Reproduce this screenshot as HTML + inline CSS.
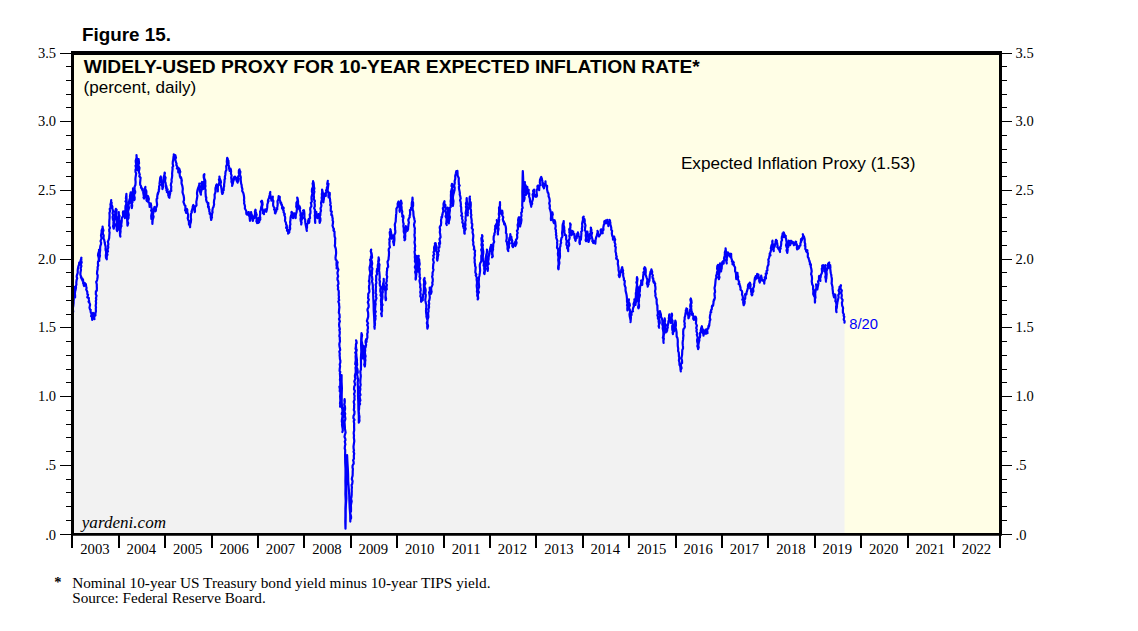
<!DOCTYPE html>
<html><head><meta charset="utf-8"><title>Figure 15</title>
<style>html,body{margin:0;padding:0;background:#fff;}body{width:1138px;height:631px;overflow:hidden;}svg{display:block;}.ss{font-family:"Liberation Sans",sans-serif;}.sr{font-family:"Liberation Serif",serif;}</style></head><body>
<svg width="1138" height="631" viewBox="0 0 1138 631">
<rect width="1138" height="631" fill="#fff"/>
<rect x="72.5" y="53.0" width="928.0" height="481.5" fill="#fffee6"/>
<path d="M73.2 534.5 L73.2 311.6 L72.9 309.3 L72.9 307.8 L73.3 305.7 L73.6 303.0 L73.6 300.8 L73.8 299.7 L73.4 296.9 L74.4 295.7 L73.7 293.6 L74.7 292.5 L74.1 290.8 L73.8 289.6 L74.4 287.1 L74.8 290.0 L75.1 290.9 L74.4 292.9 L74.9 294.7 L75.1 297.4 L75.1 295.5 L74.9 293.7 L75.2 291.0 L75.6 289.9 L76.0 287.7 L75.8 285.9 L76.4 284.7 L76.3 282.3 L76.6 280.0 L77.2 278.4 L76.7 276.9 L76.8 275.6 L77.7 272.9 L77.7 270.1 L77.9 268.8 L78.4 266.3 L78.5 266.5 L78.5 265.9 L79.1 264.5 L79.2 262.5 L79.4 263.2 L80.1 264.7 L80.1 262.6 L80.3 261.7 L80.8 259.7 L81.4 259.9 L80.9 259.5 L81.4 257.7 L81.1 259.5 L81.3 260.7 L81.7 262.5 L80.8 264.2 L81.4 266.1 L80.6 268.3 L81.0 269.8 L80.5 272.2 L80.4 274.6 L80.8 276.0 L81.2 276.3 L80.9 277.2 L82.0 279.4 L82.2 278.4 L82.2 278.9 L82.4 280.7 L82.9 280.9 L83.0 279.3 L83.1 280.7 L83.2 283.8 L83.5 283.1 L84.3 283.5 L83.8 285.4 L84.1 286.0 L84.7 284.1 L84.7 282.8 L85.1 284.7 L85.9 284.2 L86.0 285.6 L86.4 287.0 L86.5 287.3 L86.5 288.5 L86.2 289.5 L87.3 291.8 L87.3 292.4 L87.4 294.2 L88.1 294.8 L87.3 297.4 L88.1 297.9 L88.8 297.9 L88.9 299.4 L89.2 301.8 L88.5 301.7 L89.7 303.4 L90.1 304.8 L89.8 306.1 L89.5 307.6 L90.1 309.7 L90.7 309.8 L90.5 310.7 L90.8 312.7 L91.7 313.6 L91.1 316.2 L91.9 316.8 L92.2 319.8 L92.4 319.8 L92.6 315.8 L92.7 314.9 L93.0 312.9 L93.4 314.2 L93.5 318.5 L93.8 316.4 L94.5 319.2 L94.2 318.8 L94.4 314.9 L94.6 313.4 L95.5 315.5 L95.4 314.8 L95.4 313.4 L95.9 311.3 L95.8 308.5 L96.0 307.5 L95.7 305.7 L96.1 302.9 L95.8 301.3 L96.3 299.1 L95.9 298.2 L96.6 295.7 L95.8 294.2 L95.9 291.4 L96.8 290.6 L96.9 287.8 L96.8 287.0 L96.8 284.4 L96.2 281.9 L96.9 280.7 L97.2 279.4 L97.6 277.3 L97.7 275.2 L97.0 273.8 L97.2 271.2 L97.7 269.1 L97.6 267.2 L98.3 265.2 L97.9 264.1 L98.0 261.8 L98.7 260.6 L98.8 258.6 L98.5 256.9 L98.0 255.1 L98.3 253.3 L99.2 250.7 L99.0 249.8 L99.1 251.0 L99.0 253.6 L99.1 255.1 L98.9 257.2 L99.2 258.5 L99.3 260.9 L99.1 258.5 L99.5 257.5 L100.0 255.7 L99.7 254.4 L99.9 252.2 L100.2 250.2 L100.1 248.2 L100.3 246.2 L101.0 244.2 L101.1 242.6 L100.5 241.1 L101.5 238.7 L101.2 236.3 L101.0 235.4 L101.6 232.5 L101.6 230.3 L102.3 228.6 L102.8 228.4 L102.6 226.5 L102.6 227.8 L103.5 230.3 L102.7 232.9 L102.9 233.7 L103.7 235.5 L103.5 238.5 L104.1 239.5 L104.4 240.9 L104.8 243.1 L105.1 244.4 L105.7 247.1 L105.5 248.9 L105.7 250.6 L106.1 251.4 L106.1 254.1 L105.8 255.0 L106.0 257.9 L106.8 259.3 L106.7 256.7 L107.5 254.5 L106.9 252.8 L108.0 251.3 L107.4 250.1 L108.3 247.3 L108.0 245.8 L108.4 244.0 L107.8 241.5 L108.4 240.6 L109.2 238.0 L109.2 237.0 L109.4 234.5 L109.6 232.4 L109.3 231.6 L109.2 229.4 L110.0 227.9 L109.1 225.7 L109.3 224.1 L109.3 221.7 L109.4 219.7 L109.6 218.1 L109.6 217.1 L109.6 215.0 L109.4 212.9 L110.1 211.3 L109.7 208.9 L110.5 207.9 L110.6 205.3 L110.4 204.5 L110.9 202.8 L111.2 200.2 L111.0 201.8 L111.7 202.6 L111.4 204.5 L111.8 205.2 L112.4 206.6 L112.3 208.7 L112.8 210.2 L113.2 211.4 L112.5 213.1 L113.3 215.1 L112.6 216.8 L113.0 219.8 L113.6 221.1 L113.4 222.8 L113.5 224.3 L113.0 226.3 L113.7 228.7 L114.0 227.5 L114.7 224.7 L114.2 222.5 L114.4 220.0 L114.8 219.2 L115.0 216.8 L115.2 214.4 L115.2 211.9 L115.6 209.9 L115.9 208.9 L116.6 209.7 L116.4 212.0 L116.2 214.4 L116.1 216.7 L116.0 218.6 L116.8 219.9 L117.1 222.6 L116.6 224.3 L116.5 225.0 L116.8 227.9 L116.7 229.8 L117.2 231.1 L117.4 228.7 L117.9 227.2 L118.1 225.9 L118.3 223.8 L118.2 222.0 L117.6 219.3 L118.2 217.0 L118.9 215.0 L118.8 213.8 L118.8 212.1 L118.7 214.2 L119.6 215.9 L118.9 218.3 L119.3 219.8 L119.9 221.8 L119.8 223.9 L119.9 224.8 L120.1 227.4 L119.3 229.6 L120.2 231.1 L119.9 232.9 L120.1 235.3 L120.4 236.7 L120.0 235.3 L120.4 232.6 L120.6 231.6 L120.4 229.7 L120.9 227.0 L121.5 226.1 L121.2 224.5 L121.6 222.4 L121.8 220.7 L121.7 218.6 L122.0 217.6 L123.2 216.3 L122.9 212.5 L123.2 211.3 L122.9 212.9 L123.9 212.9 L123.4 213.1 L124.1 213.5 L124.4 214.0 L125.0 216.8 L124.9 218.1 L125.1 217.7 L125.4 216.7 L125.8 213.9 L124.8 212.1 L125.5 209.6 L125.4 208.2 L125.5 206.0 L126.2 204.4 L126.2 202.1 L125.5 201.5 L126.4 200.2 L125.9 198.4 L126.2 195.8 L126.4 193.9 L126.6 200.5 L126.9 206.6 L127.2 212.8 L127.1 219.0 L127.5 225.6 L128.2 223.2 L127.5 221.3 L127.5 219.9 L128.6 218.0 L128.5 216.9 L128.8 214.9 L128.5 213.5 L128.0 211.4 L128.6 209.5 L129.0 207.7 L128.4 205.0 L129.1 203.4 L128.9 202.3 L129.4 199.9 L130.2 197.5 L129.9 196.8 L130.2 194.7 L130.7 192.3 L131.0 194.5 L131.4 195.7 L130.6 197.6 L131.6 200.0 L130.8 202.8 L132.0 204.2 L132.2 205.6 L131.8 208.1 L131.4 205.7 L131.8 203.6 L132.6 202.1 L132.2 200.6 L132.4 198.2 L132.3 196.0 L132.4 193.5 L132.3 192.8 L133.0 190.5 L133.0 188.3 L133.6 191.0 L133.7 192.0 L133.7 194.0 L133.5 197.1 L134.7 199.1 L134.3 200.2 L134.7 197.8 L134.5 196.9 L134.0 194.8 L135.2 192.6 L135.2 191.3 L134.6 189.8 L134.6 186.7 L135.3 185.2 L135.5 184.0 L135.6 181.9 L135.4 179.6 L135.5 177.8 L135.9 175.2 L136.2 173.4 L135.5 172.1 L135.5 169.6 L136.1 168.3 L135.5 165.8 L136.2 164.4 L135.8 162.4 L135.7 160.8 L136.3 158.6 L136.6 157.6 L136.5 155.1 L136.7 157.8 L137.1 158.6 L136.6 161.4 L137.6 162.5 L136.9 164.5 L137.5 166.2 L136.9 168.5 L137.5 170.1 L137.1 167.8 L137.8 166.0 L137.7 164.7 L138.5 163.3 L138.1 161.0 L138.6 159.0 L138.9 161.6 L139.1 163.3 L138.6 164.2 L138.5 165.8 L139.5 167.8 L139.3 169.2 L138.8 171.7 L139.4 173.3 L139.8 174.5 L139.3 176.2 L140.6 177.8 L140.4 179.4 L140.1 182.9 L140.2 184.8 L141.0 186.0 L141.4 188.2 L141.0 187.3 L142.3 188.8 L142.1 189.7 L142.4 189.7 L142.5 190.7 L143.4 191.1 L143.2 192.5 L143.7 195.4 L143.9 197.2 L143.5 197.4 L144.1 198.6 L144.2 197.2 L144.5 194.0 L145.3 192.3 L144.8 190.0 L144.6 189.2 L145.4 186.8 L145.2 188.7 L146.3 191.0 L146.4 191.8 L146.3 195.0 L145.7 197.0 L146.6 198.2 L146.5 200.2 L146.9 201.0 L147.3 198.7 L147.1 197.4 L147.9 195.9 L148.0 197.8 L148.1 196.3 L148.9 199.0 L148.7 199.5 L148.4 202.4 L149.5 203.1 L149.4 204.7 L149.7 206.6 L149.6 206.9 L150.5 206.4 L150.8 205.7 L150.8 203.4 L151.2 205.7 L151.3 206.9 L151.7 209.4 L151.1 210.5 L152.0 212.2 L151.6 213.7 L151.2 216.0 L151.4 218.9 L152.6 220.0 L152.3 221.4 L152.4 224.0 L152.5 222.1 L152.7 219.6 L153.2 218.1 L153.6 216.6 L152.9 214.5 L153.4 212.8 L153.6 210.4 L154.0 208.1 L154.5 209.6 L154.7 207.4 L154.5 206.9 L155.1 208.5 L154.9 208.9 L155.7 208.9 L155.6 211.3 L156.0 209.7 L155.7 208.7 L156.8 206.1 L157.1 204.5 L156.6 201.1 L156.6 198.9 L157.3 198.5 L157.2 196.8 L157.6 193.9 L157.8 194.6 L158.4 192.2 L158.0 192.6 L158.8 191.4 L158.8 189.2 L159.2 189.1 L159.1 186.4 L159.8 184.8 L159.5 183.7 L159.9 180.9 L160.0 180.1 L160.2 177.9 L160.8 176.5 L161.0 178.8 L161.7 179.3 L161.4 181.5 L162.2 183.8 L161.7 184.9 L162.4 186.9 L162.4 189.1 L163.2 186.7 L163.0 184.6 L163.1 182.7 L163.5 181.2 L164.3 180.1 L163.6 177.6 L163.9 176.4 L164.9 173.4 L164.7 172.5 L164.5 174.0 L164.6 175.8 L165.6 177.7 L165.3 178.8 L165.0 181.5 L165.5 182.5 L165.8 184.6 L166.0 186.8 L166.5 186.1 L166.0 188.0 L166.7 187.6 L166.4 190.3 L167.6 189.3 L166.9 192.2 L168.2 191.7 L167.9 192.3 L168.3 194.4 L168.3 195.7 L169.1 196.3 L169.3 197.1 L168.8 197.1 L169.5 197.8 L169.4 197.0 L169.9 194.5 L170.2 193.3 L170.3 191.1 L171.3 190.9 L171.1 189.1 L171.3 186.5 L170.8 185.4 L171.0 183.9 L171.7 181.7 L171.5 179.7 L172.0 177.5 L172.2 175.4 L172.1 173.5 L172.3 171.7 L172.6 168.8 L172.4 167.4 L173.2 166.2 L172.7 163.8 L172.8 161.7 L173.3 159.1 L173.5 156.8 L173.8 155.8 L173.8 154.3 L174.1 155.7 L174.7 157.3 L174.6 155.4 L175.0 155.3 L175.3 155.1 L176.0 157.7 L175.2 159.7 L175.7 161.2 L175.8 161.7 L176.6 163.8 L176.3 164.9 L177.5 167.0 L176.9 168.5 L177.8 167.7 L178.3 170.0 L178.2 170.9 L178.3 172.4 L178.4 172.0 L179.4 170.9 L179.0 168.3 L179.5 169.3 L179.9 170.9 L180.3 171.8 L179.6 173.6 L179.9 176.4 L180.6 178.0 L180.5 177.5 L181.0 177.2 L181.5 179.3 L181.5 181.3 L181.8 180.4 L181.5 182.7 L181.6 183.7 L182.4 186.2 L182.8 188.6 L182.6 191.1 L182.5 192.1 L183.0 193.9 L183.6 195.6 L184.0 198.0 L184.0 200.2 L183.4 201.9 L184.1 203.5 L184.5 205.0 L185.4 205.9 L185.4 206.4 L185.4 208.8 L185.1 210.4 L186.2 210.7 L186.1 212.9 L185.8 211.6 L186.5 209.1 L186.9 208.9 L187.3 209.8 L187.3 212.0 L188.1 214.7 L188.0 217.1 L187.7 218.2 L188.5 220.8 L189.2 220.9 L188.9 221.7 L189.0 224.6 L189.8 224.9 L189.7 224.9 L190.1 227.2 L190.1 225.2 L190.3 223.7 L190.8 222.5 L191.1 219.7 L190.8 217.1 L190.9 216.1 L190.9 214.1 L191.8 212.3 L191.8 210.6 L191.5 211.3 L192.4 208.9 L192.5 208.1 L192.9 207.0 L192.7 206.7 L193.3 205.0 L193.8 205.9 L193.3 206.3 L193.8 208.9 L193.9 208.7 L194.6 211.2 L194.8 212.1 L195.0 211.3 L194.9 208.7 L195.1 206.9 L196.2 205.8 L196.5 205.2 L196.4 203.4 L196.3 201.9 L196.7 199.9 L197.0 198.3 L197.4 195.6 L197.1 194.7 L197.0 193.0 L197.5 190.0 L198.0 188.3 L198.8 188.1 L198.3 187.2 L198.6 186.7 L199.5 184.4 L199.3 183.6 L199.3 185.7 L199.3 187.8 L199.7 189.3 L199.9 191.5 L200.4 192.9 L200.9 194.7 L200.8 193.0 L201.4 190.6 L201.9 188.4 L201.0 186.5 L202.2 184.7 L201.4 183.2 L202.0 182.0 L202.8 182.5 L202.4 185.6 L202.5 187.8 L203.1 189.1 L203.4 186.6 L203.8 184.9 L204.1 183.9 L204.2 181.0 L204.4 180.3 L203.7 177.3 L203.7 175.1 L204.4 174.1 L204.1 176.3 L204.2 178.1 L205.0 179.9 L205.3 180.8 L205.3 183.4 L205.2 184.8 L205.5 186.0 L205.0 188.1 L205.6 190.1 L205.5 192.3 L205.7 195.0 L205.8 197.0 L206.3 197.3 L206.1 199.6 L206.7 201.8 L206.7 201.7 L207.5 202.6 L207.9 204.5 L208.1 205.3 L208.4 203.0 L208.3 205.0 L208.0 206.8 L208.8 206.6 L208.8 208.7 L209.4 209.4 L209.2 211.1 L209.9 212.9 L209.6 213.7 L210.8 215.0 L210.7 217.4 L210.8 217.8 L211.2 220.0 L211.8 217.6 L212.0 217.5 L211.7 216.3 L212.0 214.6 L211.9 214.2 L212.6 212.1 L212.3 211.1 L212.8 208.0 L213.4 207.1 L214.1 204.5 L213.9 202.6 L214.1 200.2 L214.6 198.7 L214.7 197.3 L214.6 194.7 L215.4 192.3 L215.5 191.2 L215.4 189.1 L215.6 187.3 L216.0 187.7 L216.1 185.4 L216.1 186.0 L216.7 184.4 L217.2 185.7 L216.8 188.3 L217.9 189.0 L217.8 191.5 L217.8 189.0 L217.8 187.6 L218.0 185.5 L218.9 184.8 L219.4 181.7 L218.9 179.3 L219.6 179.0 L219.4 176.5 L219.7 178.8 L219.8 179.3 L220.5 180.2 L221.0 182.2 L220.4 184.1 L221.0 186.0 L221.3 187.9 L221.6 189.5 L221.7 190.1 L221.8 192.0 L222.3 193.9 L222.5 193.7 L223.1 192.3 L222.7 190.6 L223.7 190.2 L223.7 189.4 L223.7 187.5 L224.1 186.6 L224.1 184.4 L224.5 181.9 L224.5 179.4 L225.1 178.8 L224.8 177.0 L225.3 174.9 L225.4 173.1 L225.6 171.5 L226.4 170.0 L226.3 167.3 L226.2 166.3 L227.1 164.3 L226.8 161.6 L226.9 160.6 L227.2 157.9 L227.4 162.6 L227.7 158.7 L227.9 160.5 L228.2 160.7 L228.4 160.6 L228.6 163.3 L228.4 164.8 L229.0 166.2 L229.1 168.5 L229.7 170.9 L230.3 168.8 L229.9 168.6 L230.5 168.5 L230.8 170.1 L231.1 171.1 L230.9 173.7 L231.6 175.7 L231.2 177.5 L231.6 180.6 L231.4 181.7 L232.3 183.7 L232.1 186.0 L232.7 183.8 L232.8 183.8 L233.0 182.1 L233.7 180.2 L233.6 178.8 L233.7 178.0 L234.2 179.1 L234.0 177.4 L234.1 177.1 L234.5 178.3 L234.9 176.5 L235.4 178.5 L235.6 177.6 L236.0 177.9 L235.6 177.3 L236.4 178.1 L236.3 179.0 L236.4 180.1 L236.8 181.2 L236.9 181.2 L237.7 182.6 L237.9 178.9 L238.2 181.1 L238.5 178.3 L238.4 178.8 L238.0 176.9 L239.4 174.2 L238.8 173.1 L238.9 170.4 L239.5 169.3 L239.4 170.1 L240.4 171.8 L239.9 174.8 L240.1 175.2 L240.8 177.2 L240.7 179.3 L240.9 181.6 L241.2 183.9 L241.6 184.8 L241.8 187.1 L242.4 189.1 L242.2 190.9 L243.2 192.8 L243.6 194.1 L244.0 196.3 L244.2 198.2 L244.0 200.2 L244.3 201.7 L244.1 203.5 L244.4 204.0 L245.0 206.2 L244.9 208.4 L245.6 209.7 L245.9 210.2 L246.6 212.4 L246.2 212.9 L246.5 211.8 L246.4 214.0 L247.1 214.5 L247.8 213.8 L247.6 213.5 L247.4 214.6 L248.3 214.4 L248.8 212.5 L248.7 212.1 L249.0 213.5 L248.9 215.6 L249.6 216.7 L249.7 218.7 L250.0 220.8 L250.0 219.6 L250.3 218.1 L250.4 215.8 L251.4 214.0 L251.1 212.1 L251.0 214.0 L251.8 214.7 L251.8 215.9 L251.8 218.1 L252.2 218.4 L252.7 220.8 L253.0 220.8 L253.0 218.0 L253.1 216.5 L253.9 218.4 L254.4 217.7 L254.3 216.1 L254.7 215.9 L254.9 214.2 L255.1 212.9 L254.9 211.5 L255.5 209.7 L255.8 212.0 L256.4 213.9 L256.7 214.7 L255.9 217.4 L256.7 219.2 L256.4 221.4 L257.0 222.4 L257.1 223.1 L257.5 221.2 L257.7 220.6 L258.2 222.9 L258.3 219.4 L258.3 217.8 L258.8 222.6 L259.0 221.6 L259.2 222.2 L259.4 219.0 L260.3 219.4 L260.0 219.9 L260.3 217.7 L259.9 215.9 L260.2 214.2 L260.1 211.5 L260.8 210.2 L261.2 207.2 L261.8 205.4 L261.9 203.5 L261.1 201.5 L261.9 200.7 L262.4 202.6 L262.6 204.8 L262.1 205.6 L262.1 208.3 L263.2 210.4 L262.9 211.8 L262.9 213.2 L263.0 213.3 L263.2 213.0 L264.0 214.2 L263.7 213.4 L264.7 211.1 L264.3 211.6 L265.1 210.2 L265.1 210.1 L265.2 209.4 L266.2 210.3 L266.0 210.8 L266.3 211.8 L266.8 209.8 L267.2 207.4 L267.3 205.8 L267.3 204.5 L268.0 202.4 L267.9 200.7 L268.5 201.3 L268.2 199.6 L269.2 197.4 L269.3 198.0 L269.2 196.8 L269.6 195.3 L270.1 195.6 L269.8 193.7 L270.3 192.0 L270.1 193.8 L270.5 195.3 L270.5 197.4 L271.4 199.6 L271.4 200.7 L271.4 198.7 L272.0 198.6 L272.6 199.3 L272.8 196.6 L272.7 196.8 L272.5 199.3 L273.4 201.1 L273.1 203.8 L273.2 205.7 L273.9 207.1 L274.6 207.9 L274.1 209.4 L274.4 209.6 L275.2 212.1 L274.9 212.9 L275.4 213.4 L275.3 212.6 L276.2 211.2 L276.1 211.6 L276.7 209.3 L276.3 209.8 L277.3 209.1 L277.1 207.8 L277.4 206.7 L277.7 204.1 L277.5 201.3 L278.4 199.2 L278.5 197.5 L278.7 196.0 L278.9 196.6 L279.8 196.9 L279.6 200.1 L279.6 199.5 L280.4 201.7 L280.3 202.3 L280.7 203.3 L281.3 203.1 L280.6 202.0 L281.4 204.9 L281.9 204.7 L281.9 204.7 L282.2 206.4 L282.1 207.9 L282.1 208.6 L283.4 207.4 L283.5 207.6 L283.8 207.8 L283.1 210.1 L283.8 211.0 L283.5 212.1 L284.8 214.1 L284.6 214.8 L284.2 214.8 L285.0 216.6 L285.2 217.9 L285.0 220.7 L286.0 222.9 L286.1 224.5 L286.8 225.5 L286.1 227.9 L287.4 227.2 L287.3 227.9 L287.0 230.7 L287.7 230.8 L288.4 232.8 L288.1 233.6 L288.1 233.4 L289.1 229.8 L288.7 233.2 L289.3 232.4 L289.3 230.8 L290.2 228.8 L289.9 225.7 L290.4 224.5 L290.1 222.0 L290.4 220.6 L290.5 218.5 L290.6 217.3 L291.0 215.8 L292.0 213.0 L291.7 211.8 L291.4 212.2 L291.8 215.0 L292.5 214.9 L292.2 215.8 L293.0 218.1 L293.4 217.9 L293.3 216.5 L293.7 216.7 L293.6 215.5 L293.7 213.4 L294.5 213.4 L294.7 214.7 L294.5 214.6 L295.3 215.3 L295.7 215.9 L295.7 218.1 L295.6 216.6 L296.0 213.9 L296.6 212.1 L296.8 209.9 L296.9 207.8 L296.2 206.8 L296.4 204.9 L296.4 202.7 L297.5 200.9 L297.6 200.1 L297.2 197.5 L297.7 198.8 L298.1 201.7 L298.0 203.6 L298.6 205.9 L298.4 207.6 L298.4 208.6 L298.1 207.1 L298.9 208.7 L299.1 206.3 L299.1 207.9 L299.6 206.3 L300.2 208.4 L299.6 209.5 L300.4 212.0 L300.7 212.9 L300.4 215.4 L300.9 216.8 L300.5 219.1 L300.8 221.4 L301.6 222.3 L301.2 224.5 L301.3 223.0 L301.1 221.3 L301.7 219.7 L302.5 218.0 L301.7 215.4 L302.5 213.4 L302.7 214.4 L302.7 213.9 L303.6 211.4 L303.1 210.5 L303.8 210.2 L303.9 210.2 L304.1 211.0 L304.4 213.6 L304.4 215.0 L304.5 218.2 L305.2 219.7 L305.2 221.3 L305.4 223.1 L305.6 224.3 L306.3 227.7 L306.5 229.2 L306.8 230.8 L306.5 229.0 L307.0 227.9 L307.0 224.7 L308.1 222.7 L308.0 221.3 L308.7 219.0 L308.9 222.0 L308.7 220.6 L309.1 222.9 L309.4 220.9 L309.1 219.4 L310.1 218.1 L309.7 214.6 L310.4 213.4 L310.5 211.4 L310.2 209.4 L310.4 207.7 L311.4 206.4 L311.2 203.9 L310.8 202.9 L311.9 201.6 L311.5 199.1 L311.5 197.1 L311.8 195.7 L312.4 193.2 L311.9 191.6 L312.0 188.9 L312.9 187.1 L313.0 185.8 L312.6 183.3 L313.1 185.5 L313.1 181.2 L313.7 185.0 L313.6 182.5 L313.8 184.3 L313.9 186.6 L314.4 188.5 L313.9 190.3 L314.4 191.6 L313.7 194.9 L314.0 197.2 L313.8 199.1 L314.9 201.1 L314.4 202.3 L314.8 204.6 L314.8 206.4 L314.1 208.1 L315.0 210.0 L314.8 211.8 L315.1 214.2 L314.7 215.3 L314.9 216.7 L315.0 219.7 L315.2 220.8 L315.2 222.9 L315.0 221.0 L315.1 218.5 L315.6 216.8 L315.6 214.9 L316.2 212.7 L316.3 211.8 L316.4 213.8 L316.7 215.3 L316.9 216.0 L317.4 218.1 L317.7 217.0 L317.8 216.7 L317.8 215.2 L318.4 214.1 L318.6 214.2 L318.7 215.5 L319.2 216.6 L319.6 219.8 L319.5 221.4 L319.7 222.9 L320.4 220.7 L320.4 218.5 L319.7 216.2 L320.3 215.4 L320.4 212.4 L321.0 210.8 L320.5 208.3 L321.0 207.1 L321.4 205.7 L321.0 202.8 L321.6 200.9 L321.9 199.4 L321.6 197.9 L322.0 196.0 L321.8 194.1 L322.2 192.2 L322.1 189.6 L322.7 192.3 L323.1 194.1 L322.6 195.8 L322.3 197.1 L323.1 198.9 L322.8 201.1 L323.4 202.3 L323.5 201.0 L323.9 198.8 L323.9 197.5 L324.5 195.3 L324.7 193.6 L325.2 193.7 L324.9 195.8 L325.6 195.6 L325.8 196.0 L325.8 193.6 L326.4 191.5 L326.1 190.4 L326.9 188.8 L326.9 187.6 L327.8 185.8 L327.2 184.0 L327.8 180.9 L327.4 182.9 L328.5 183.9 L328.1 186.3 L327.8 188.9 L327.6 190.4 L328.3 192.1 L328.6 194.1 L328.4 195.5 L328.6 197.5 L329.4 196.0 L329.2 195.5 L329.3 193.0 L329.7 192.8 L329.8 194.4 L329.5 196.8 L330.1 199.5 L330.1 200.8 L330.6 203.5 L330.1 205.0 L330.9 206.2 L330.8 208.6 L330.7 210.9 L331.8 211.4 L331.4 213.5 L331.3 214.9 L332.1 215.0 L332.4 217.7 L332.7 218.3 L332.6 220.4 L333.1 221.7 L332.8 224.1 L332.5 225.7 L333.2 227.7 L334.0 229.1 L333.4 230.1 L333.8 231.0 L334.5 231.4 L334.5 234.0 L334.6 236.3 L335.3 238.4 L335.1 240.0 L335.1 242.1 L335.1 243.6 L334.8 245.9 L335.6 248.0 L335.9 249.3 L336.1 252.1 L336.1 253.3 L335.8 255.8 L335.5 257.5 L335.7 259.6 L336.7 260.5 L336.5 263.3 L336.5 265.3 L336.8 266.3 L336.6 268.5 L337.4 266.0 L337.0 265.2 L337.3 263.6 L337.7 262.2 L337.3 263.5 L337.2 266.0 L337.7 267.9 L338.4 269.6 L337.5 272.4 L337.5 273.8 L338.2 276.2 L337.5 278.0 L337.5 279.8 L338.2 281.3 L338.5 283.8 L337.7 285.4 L338.2 287.5 L337.9 289.3 L338.7 290.7 L338.8 292.6 L338.7 295.4 L339.0 296.9 L338.7 298.6 L339.2 300.2 L338.3 301.6 L339.1 303.6 L339.1 305.2 L339.4 307.1 L339.1 309.5 L339.0 311.3 L338.8 312.7 L339.5 314.4 L339.7 317.4 L339.0 319.0 L339.9 321.4 L339.3 322.8 L339.1 324.6 L339.2 326.3 L339.8 328.7 L339.9 329.2 L339.3 330.0 L339.8 331.7 L339.7 333.9 L339.3 336.1 L339.8 337.3 L339.8 339.3 L340.0 341.5 L339.5 343.0 L339.3 344.4 L339.5 346.2 L339.9 348.3 L340.2 350.0 L339.3 351.5 L339.8 353.8 L339.6 355.3 L339.8 356.8 L339.9 359.0 L340.4 360.8 L340.3 362.7 L339.7 364.3 L340.1 366.3 L339.7 369.0 L339.6 371.1 L340.3 372.0 L339.9 373.4 L340.1 376.0 L340.2 377.9 L339.9 379.6 L340.3 381.8 L340.2 384.0 L340.3 385.6 L339.4 386.7 L339.9 389.0 L339.7 391.2 L340.5 392.4 L340.3 394.3 L340.1 396.4 L340.2 398.1 L340.4 400.8 L340.0 403.2 L340.4 405.2 L340.1 406.7 L340.5 400.4 L340.5 394.0 L341.1 387.9 L341.1 381.3 L341.6 375.1 L341.6 381.8 L341.9 388.1 L341.7 394.6 L341.7 401.2 L342.0 408.0 L342.5 410.0 L342.2 412.0 L341.7 414.0 L342.6 415.2 L342.2 417.8 L341.9 419.8 L341.8 421.5 L342.2 423.1 L342.0 424.1 L342.2 426.2 L342.7 428.8 L342.8 430.7 L342.3 432.0 L342.8 430.6 L342.6 427.8 L342.8 426.8 L342.5 424.4 L342.7 421.5 L342.7 419.8 L342.7 417.8 L343.5 416.5 L343.4 414.3 L343.2 412.0 L343.6 410.4 L343.7 409.3 L344.5 406.6 L344.2 404.2 L344.7 402.5 L344.8 401.0 L344.6 399.1 L344.4 400.5 L344.7 402.8 L344.3 405.0 L344.9 406.1 L345.1 408.1 L345.0 409.6 L344.5 411.5 L345.2 413.7 L344.8 415.5 L345.2 417.4 L345.4 418.9 L344.5 421.9 L344.6 422.9 L344.8 425.7 L344.9 427.0 L344.9 428.5 L345.3 430.6 L345.6 432.7 L344.8 435.2 L344.5 436.9 L345.3 438.8 L345.5 440.1 L344.8 441.5 L345.4 444.4 L345.0 445.7 L344.7 448.4 L345.2 449.9 L345.1 456.0 L345.2 462.6 L345.5 468.7 L345.5 475.1 L345.4 481.2 L345.5 487.5 L345.4 494.3 L345.7 501.1 L345.4 508.1 L345.4 515.1 L345.3 522.1 L345.5 528.7 L345.6 522.7 L345.7 516.4 L345.7 510.5 L345.9 504.5 L346.4 498.4 L346.3 492.3 L346.2 485.9 L346.4 479.8 L346.5 473.8 L347.0 467.7 L346.9 461.5 L347.1 455.1 L347.4 461.5 L347.8 468.1 L348.1 474.4 L348.2 481.1 L348.7 487.5 L349.2 494.6 L349.4 501.1 L349.7 508.0 L350.2 514.6 L350.3 521.6 L350.3 519.4 L351.0 518.6 L351.1 516.9 L350.8 515.3 L350.2 513.2 L351.0 511.2 L351.0 508.7 L351.0 507.7 L350.9 505.6 L351.2 503.4 L351.7 501.3 L351.0 498.7 L351.4 497.5 L351.7 494.8 L351.7 493.1 L351.8 491.2 L351.7 489.5 L351.9 487.5 L351.6 484.9 L352.2 484.0 L352.6 481.1 L351.8 479.0 L352.1 477.5 L352.6 475.6 L352.7 473.2 L352.7 471.7 L352.9 468.9 L352.5 467.6 L352.6 465.5 L353.7 463.6 L353.6 461.8 L353.1 460.2 L353.9 458.8 L353.8 455.8 L354.2 453.5 L353.5 451.6 L354.0 450.5 L353.6 448.5 L353.5 446.5 L353.9 443.7 L354.3 441.2 L354.2 440.0 L353.8 437.6 L353.9 436.8 L354.0 435.7 L353.7 433.3 L353.8 432.0 L354.2 430.2 L354.1 427.2 L354.1 425.2 L354.2 423.7 L353.7 421.1 L354.5 419.9 L353.4 418.1 L353.5 416.0 L354.4 414.0 L354.5 411.4 L353.8 410.0 L354.1 408.0 L354.1 405.6 L354.3 404.5 L353.7 401.7 L354.6 399.5 L354.4 397.6 L354.6 395.8 L354.0 394.0 L354.5 392.9 L354.9 390.9 L354.0 389.3 L354.2 386.6 L355.1 384.7 L354.7 382.7 L354.3 381.4 L355.4 378.7 L355.0 377.4 L354.9 375.4 L355.3 374.2 L355.7 372.6 L355.7 370.0 L355.5 367.7 L356.2 365.7 L355.2 364.2 L355.5 361.9 L355.8 360.2 L355.7 358.5 L355.6 356.5 L355.9 354.1 L355.2 352.6 L356.4 351.0 L355.5 348.7 L355.7 347.6 L356.0 345.4 L356.1 343.5 L356.6 342.0 L356.1 340.3 L356.7 342.9 L355.9 344.5 L356.0 346.8 L356.2 348.5 L356.7 349.9 L356.1 352.4 L356.4 354.7 L356.4 355.8 L356.7 358.1 L357.0 360.1 L356.9 361.7 L357.1 363.7 L357.2 364.8 L356.5 366.9 L357.4 369.0 L357.6 370.6 L357.8 372.6 L357.0 374.0 L357.5 376.4 L357.8 378.6 L358.1 379.9 L357.7 382.3 L358.0 388.9 L358.0 395.8 L358.3 402.7 L358.4 409.5 L358.8 415.8 L358.8 422.7 L359.5 420.8 L359.3 418.7 L359.5 416.9 L359.1 414.4 L359.0 413.6 L358.7 411.1 L359.1 408.9 L359.1 407.7 L359.2 405.5 L360.1 403.9 L359.4 402.1 L360.4 400.5 L359.9 398.1 L359.5 396.5 L360.5 394.9 L359.7 392.3 L360.2 390.0 L360.4 389.0 L360.0 387.4 L360.7 384.8 L360.3 383.1 L360.3 381.3 L360.5 378.5 L360.8 376.4 L360.7 374.8 L360.5 373.4 L360.3 371.4 L360.9 369.6 L361.0 363.7 L360.9 357.8 L361.3 351.5 L361.1 345.3 L361.2 339.1 L361.5 333.2 L362.1 335.4 L361.7 337.6 L361.6 339.3 L361.6 341.1 L362.1 343.1 L362.3 345.3 L361.7 347.3 L362.3 349.3 L361.6 351.3 L362.5 352.8 L361.8 354.7 L363.0 356.0 L362.5 358.5 L362.8 356.5 L362.6 355.3 L362.6 354.0 L362.6 351.9 L362.8 348.8 L363.4 346.7 L363.6 345.8 L364.1 347.5 L364.0 350.2 L364.3 351.1 L363.5 353.6 L364.7 354.7 L364.6 357.4 L364.4 359.8 L364.7 361.3 L364.6 363.4 L364.2 364.6 L364.8 366.5 L365.1 364.0 L365.1 361.8 L365.4 360.3 L365.1 357.9 L365.6 356.4 L365.3 355.3 L364.9 352.6 L365.2 350.4 L365.0 348.4 L365.6 347.2 L366.1 344.8 L365.6 342.6 L365.6 341.1 L366.2 339.1 L365.9 341.3 L366.6 341.8 L366.4 339.2 L366.8 339.5 L367.4 337.5 L367.3 335.1 L367.2 333.8 L367.8 332.1 L367.5 330.0 L368.0 327.9 L367.8 326.1 L367.1 325.0 L368.1 323.4 L366.9 320.9 L367.5 319.2 L368.2 316.6 L368.2 314.3 L368.1 312.5 L367.5 310.4 L367.5 309.3 L368.6 307.1 L368.7 305.7 L368.3 303.4 L367.8 302.4 L368.8 299.6 L368.0 298.1 L368.3 296.1 L368.2 294.1 L369.4 291.7 L369.3 290.1 L369.0 288.0 L369.0 286.1 L369.4 284.4 L369.5 282.5 L368.9 281.2 L369.4 279.6 L369.5 277.3 L369.5 276.2 L370.3 273.4 L370.2 272.3 L369.6 269.5 L369.6 267.3 L370.3 264.9 L370.4 263.8 L370.6 261.6 L370.0 259.9 L370.9 258.6 L370.9 256.8 L371.5 255.2 L371.3 253.8 L370.9 251.3 L371.2 249.5 L370.7 251.3 L371.5 253.0 L371.8 254.8 L372.1 257.6 L371.0 259.1 L371.5 260.3 L372.0 262.2 L372.2 263.8 L371.5 266.5 L372.4 268.7 L372.1 270.3 L372.0 271.7 L372.0 274.0 L371.6 275.3 L372.0 276.5 L372.4 279.5 L371.9 281.3 L372.4 282.6 L372.8 285.1 L372.9 287.1 L372.8 288.7 L373.2 290.7 L373.1 292.3 L373.3 298.5 L373.6 304.3 L373.7 310.3 L374.1 316.5 L374.4 322.6 L374.7 328.7 L374.3 326.4 L374.9 325.4 L375.0 323.2 L374.7 321.6 L375.5 318.9 L375.3 317.1 L375.7 315.9 L374.7 314.2 L375.8 311.6 L375.0 310.2 L375.2 307.4 L375.4 305.2 L375.7 304.2 L375.2 302.1 L375.8 300.2 L376.5 298.2 L375.9 296.6 L376.3 294.6 L375.6 293.0 L375.9 291.1 L375.8 288.9 L376.0 286.7 L375.7 284.8 L376.4 282.6 L376.0 280.4 L376.2 279.4 L376.2 277.2 L376.1 275.9 L377.1 273.9 L376.7 271.7 L376.9 270.2 L377.4 270.8 L377.0 268.9 L377.8 268.5 L377.8 266.5 L377.8 265.1 L378.4 262.9 L378.2 261.6 L378.6 259.2 L378.6 257.4 L379.1 259.9 L378.5 262.1 L378.7 263.1 L379.5 264.6 L379.2 267.1 L379.2 268.8 L379.0 271.2 L379.3 271.8 L379.5 274.0 L379.7 276.6 L379.7 278.0 L379.4 279.9 L380.0 281.5 L379.7 283.4 L379.9 285.5 L380.9 286.8 L380.4 289.0 L380.3 291.1 L380.7 292.3 L381.1 293.7 L380.5 295.2 L381.4 296.9 L381.0 299.8 L380.9 300.8 L381.2 303.4 L381.1 304.5 L381.3 306.6 L381.1 309.5 L382.0 311.4 L381.6 312.4 L381.1 313.5 L381.8 316.1 L381.6 313.6 L381.7 311.8 L382.1 310.8 L382.0 308.6 L381.9 305.9 L382.6 305.0 L382.0 303.4 L381.8 300.6 L382.3 298.9 L382.5 297.0 L382.4 295.2 L382.3 293.7 L382.8 292.1 L382.6 289.0 L382.9 287.5 L383.0 285.7 L383.0 284.1 L383.7 281.9 L383.8 280.1 L383.7 278.8 L383.8 281.3 L383.6 283.0 L383.8 284.9 L384.6 286.2 L384.7 289.1 L385.4 290.9 L385.6 293.4 L385.6 295.0 L385.4 297.4 L385.6 299.2 L385.8 300.2 L386.1 298.8 L385.6 296.3 L385.6 295.0 L385.7 293.5 L385.7 290.4 L386.8 289.3 L386.5 287.1 L386.9 284.9 L386.0 283.5 L386.8 280.9 L386.6 279.6 L387.2 276.7 L386.6 275.0 L386.8 273.6 L386.8 271.8 L387.1 270.4 L387.1 268.5 L388.2 266.6 L387.8 263.8 L387.5 261.8 L388.5 259.6 L388.7 257.2 L388.9 255.8 L389.0 253.1 L389.0 252.1 L388.7 250.4 L388.8 248.8 L390.0 247.2 L389.5 245.3 L389.4 242.4 L389.7 241.0 L389.3 239.5 L390.3 237.0 L390.0 235.1 L389.7 232.4 L390.7 230.6 L390.3 229.2 L390.9 231.5 L391.3 233.9 L390.5 235.5 L390.7 236.7 L391.5 238.7 L391.3 238.5 L392.0 237.3 L392.5 236.3 L392.8 235.5 L392.8 236.4 L393.5 237.4 L393.7 239.7 L393.1 241.7 L393.7 243.6 L393.9 245.1 L394.1 242.4 L394.4 240.3 L394.4 238.3 L394.3 236.6 L394.2 235.3 L395.3 232.7 L395.3 230.8 L395.0 229.2 L395.1 227.7 L394.8 224.8 L395.0 223.8 L395.7 221.5 L395.8 218.7 L396.0 216.6 L396.0 215.1 L396.3 213.4 L396.4 210.8 L396.4 208.7 L397.5 207.0 L397.8 205.6 L397.6 203.9 L398.4 201.7 L398.5 202.3 L398.6 202.3 L398.7 201.5 L398.6 203.1 L399.4 204.8 L399.5 206.6 L399.8 209.4 L399.8 211.8 L399.5 210.5 L399.9 208.4 L400.7 206.6 L400.1 204.8 L400.9 202.2 L401.0 200.7 L401.7 203.4 L401.1 205.1 L401.6 207.3 L401.6 209.4 L402.3 211.5 L402.0 213.6 L402.5 214.7 L402.2 216.6 L402.2 216.0 L403.0 217.4 L403.3 216.7 L403.4 216.0 L403.4 218.1 L402.9 219.6 L403.2 222.5 L403.7 223.8 L403.3 226.0 L403.7 227.9 L403.8 228.9 L403.7 231.5 L403.9 232.4 L404.6 234.3 L404.1 237.2 L404.8 239.0 L404.5 240.3 L405.2 239.3 L405.1 237.7 L405.3 235.9 L405.1 233.6 L405.7 232.2 L405.2 230.5 L405.7 229.0 L405.8 226.1 L406.5 228.6 L406.0 229.7 L406.2 228.4 L407.2 228.3 L407.4 229.5 L407.4 230.8 L408.1 229.0 L408.1 227.5 L408.4 225.3 L408.5 224.1 L408.9 222.8 L408.3 220.0 L409.0 218.1 L409.7 217.3 L409.6 215.2 L410.1 214.9 L410.1 211.9 L409.9 210.0 L410.6 210.2 L410.7 210.0 L411.0 209.4 L411.0 207.8 L411.9 207.3 L411.8 207.1 L411.7 205.3 L411.8 202.6 L412.2 201.5 L412.7 199.8 L412.5 197.5 L412.4 199.0 L412.3 200.6 L413.1 202.7 L413.1 205.9 L412.6 207.2 L412.7 209.5 L413.3 211.3 L413.4 213.4 L413.6 216.1 L414.2 218.3 L414.5 220.0 L414.9 221.3 L414.5 222.9 L414.0 224.5 L414.3 226.7 L414.9 228.4 L414.7 230.1 L414.8 233.1 L414.4 234.7 L414.7 237.3 L415.0 238.7 L414.9 240.1 L414.5 242.2 L414.8 244.0 L415.2 246.2 L414.8 248.0 L415.1 250.3 L414.5 251.6 L414.7 252.9 L415.0 255.4 L414.8 257.1 L415.1 259.0 L414.9 261.4 L415.7 263.3 L415.7 264.5 L414.8 267.1 L415.2 268.0 L415.9 270.2 L415.1 272.0 L415.7 274.1 L415.8 276.3 L415.6 277.9 L415.6 279.6 L415.9 278.6 L416.0 276.7 L416.4 274.2 L416.2 272.6 L415.6 270.2 L416.5 268.7 L416.0 267.2 L416.3 264.5 L416.0 263.6 L416.1 261.8 L416.0 259.3 L416.5 257.3 L416.7 255.8 L416.3 258.5 L417.2 259.4 L417.5 262.4 L417.3 263.6 L417.7 265.0 L417.7 267.3 L417.9 270.3 L417.8 271.7 L418.4 269.5 L418.4 267.6 L418.5 265.9 L417.8 263.5 L418.3 262.1 L418.7 260.0 L418.3 258.2 L418.7 255.8 L418.3 257.7 L419.2 259.6 L419.3 261.7 L419.7 263.9 L419.2 266.0 L418.8 267.3 L419.8 268.8 L419.5 270.3 L419.5 273.2 L419.8 274.9 L419.5 276.8 L420.2 278.1 L419.5 280.7 L419.9 282.8 L420.4 285.0 L420.1 287.3 L420.6 288.3 L420.7 290.7 L420.2 291.9 L420.7 294.1 L420.3 296.3 L421.1 297.5 L421.1 299.1 L421.1 301.8 L421.7 300.9 L421.7 301.2 L422.0 300.0 L422.5 299.0 L422.8 300.1 L422.7 298.6 L423.1 296.1 L423.0 294.8 L423.6 293.3 L423.7 291.2 L423.9 288.9 L423.9 286.0 L423.8 284.4 L424.2 282.5 L423.8 279.7 L424.6 278.0 L424.3 280.0 L425.1 281.6 L425.4 283.3 L424.4 286.0 L425.3 288.3 L425.7 290.2 L425.5 292.3 L425.2 293.1 L425.8 294.8 L425.7 296.6 L425.3 299.3 L425.4 300.7 L425.9 303.4 L426.3 304.5 L426.3 307.2 L426.2 309.0 L426.0 310.7 L426.1 312.5 L426.5 315.4 L426.4 316.4 L426.8 318.0 L427.5 320.5 L426.8 323.0 L427.3 325.0 L427.2 326.8 L427.4 328.7 L428.0 326.4 L428.0 325.6 L427.6 323.9 L427.4 322.0 L427.6 319.3 L428.4 317.1 L428.3 315.5 L428.1 313.0 L428.6 311.3 L428.4 309.3 L429.1 307.1 L428.8 305.7 L429.2 303.5 L428.7 301.5 L429.3 300.2 L429.5 299.2 L429.8 297.6 L429.6 295.4 L429.1 292.5 L430.0 290.3 L429.8 289.4 L429.7 287.5 L430.1 288.2 L430.0 289.2 L430.6 292.1 L431.0 291.8 L430.9 293.9 L431.6 291.6 L431.3 290.6 L431.1 287.7 L432.1 285.7 L432.6 284.4 L432.2 282.8 L432.7 281.5 L432.8 279.2 L432.1 276.5 L432.6 275.1 L432.5 272.8 L433.3 270.5 L433.5 269.6 L433.0 268.4 L433.1 266.3 L433.3 263.8 L433.8 262.6 L433.0 259.5 L433.8 257.4 L433.2 255.6 L434.3 254.5 L433.5 252.2 L434.2 250.8 L434.1 247.7 L434.4 246.3 L435.1 246.0 L435.1 245.1 L434.9 243.3 L435.3 244.8 L435.7 243.2 L435.8 244.6 L436.4 246.2 L436.1 248.7 L436.2 251.1 L437.1 252.8 L437.3 255.1 L437.1 256.8 L436.9 259.0 L437.3 260.6 L437.7 258.4 L437.7 257.1 L438.4 254.5 L437.6 253.1 L438.9 250.9 L438.5 249.5 L438.6 247.4 L439.4 247.4 L439.5 246.0 L439.0 243.2 L440.1 243.8 L440.0 241.6 L439.5 239.1 L440.6 237.1 L440.3 235.1 L440.2 234.1 L439.8 232.4 L440.1 229.7 L439.7 227.5 L440.0 226.4 L440.9 225.3 L441.2 222.3 L441.0 220.0 L441.6 218.0 L441.4 217.1 L442.1 217.2 L442.3 214.4 L442.6 214.6 L442.5 213.9 L442.9 212.3 L443.4 211.0 L442.8 208.1 L443.6 207.5 L443.6 205.7 L443.5 204.0 L443.7 203.1 L444.5 201.2 L444.3 203.8 L445.4 205.0 L445.4 207.0 L445.8 208.5 L445.4 211.3 L445.7 212.3 L446.3 214.1 L445.6 216.4 L446.6 218.4 L446.6 219.5 L446.9 221.8 L446.1 223.6 L446.8 225.0 L446.3 223.5 L446.5 220.6 L447.2 219.3 L447.1 217.3 L447.4 215.2 L447.9 213.6 L447.9 211.8 L448.0 210.2 L447.7 207.5 L448.4 210.1 L447.6 212.0 L447.7 213.5 L447.7 215.0 L448.1 217.2 L448.8 218.9 L448.9 221.0 L448.8 223.4 L448.9 220.7 L449.3 220.4 L449.6 218.9 L450.0 217.1 L449.3 215.0 L449.6 212.3 L449.9 210.7 L449.7 207.9 L450.7 207.2 L450.6 204.6 L450.9 203.2 L450.6 201.4 L451.0 198.4 L450.9 196.4 L450.9 194.9 L451.1 192.7 L450.9 191.9 L451.6 189.6 L452.2 187.7 L452.3 185.6 L452.0 183.8 L451.5 185.9 L452.5 187.0 L451.7 188.9 L452.6 190.3 L451.7 193.1 L452.5 194.4 L452.2 196.9 L452.2 199.0 L452.9 200.2 L452.4 201.5 L453.0 203.5 L452.8 206.0 L453.1 204.8 L453.3 202.8 L453.5 200.9 L452.9 198.5 L453.0 196.2 L453.3 194.7 L453.9 192.7 L454.1 191.7 L454.5 190.5 L454.7 187.9 L454.1 185.6 L454.6 183.9 L454.8 182.8 L454.6 181.2 L455.2 179.0 L455.3 178.0 L455.2 176.0 L455.7 174.0 L456.3 171.1 L456.2 173.5 L457.0 173.1 L457.4 170.9 L457.6 173.9 L457.5 173.5 L457.7 175.8 L458.4 177.4 L458.8 178.1 L458.7 181.3 L458.8 182.2 L458.9 184.6 L459.7 185.5 L458.9 186.8 L459.0 188.7 L459.5 190.9 L459.9 193.3 L459.7 194.4 L460.3 196.3 L460.7 198.6 L460.0 200.1 L460.6 201.9 L460.9 204.4 L460.7 206.0 L461.2 207.3 L461.2 209.2 L461.3 211.6 L462.0 213.9 L461.2 215.6 L462.4 216.4 L462.0 218.6 L462.7 220.3 L462.3 222.5 L463.3 223.7 L463.1 226.6 L463.7 227.3 L463.7 228.2 L464.4 228.9 L464.2 230.6 L464.4 233.4 L464.7 233.7 L464.5 231.2 L465.1 230.1 L465.7 228.7 L464.9 226.8 L465.5 225.1 L465.2 222.0 L465.8 220.2 L465.5 218.8 L465.7 216.0 L466.0 215.1 L465.6 213.3 L466.0 211.0 L466.4 208.7 L465.9 206.9 L466.4 206.0 L465.9 203.2 L466.6 201.8 L466.6 199.2 L466.7 198.0 L466.8 200.1 L466.9 201.5 L466.9 203.9 L466.8 205.2 L467.0 208.3 L467.6 210.4 L467.9 212.5 L467.6 213.4 L467.8 215.5 L467.5 214.3 L467.6 211.4 L468.0 209.7 L468.9 207.5 L469.3 206.3 L469.0 204.4 L469.4 202.3 L470.0 199.5 L469.6 197.7 L469.9 196.5 L469.5 198.3 L469.6 200.4 L470.7 202.6 L470.8 205.0 L470.6 207.4 L470.2 208.2 L471.0 210.0 L471.0 212.3 L470.9 213.7 L471.4 214.9 L471.0 216.8 L471.4 218.4 L471.7 220.5 L471.6 222.9 L472.3 224.1 L472.1 226.6 L471.7 227.8 L472.9 229.7 L472.5 232.3 L473.3 235.1 L473.3 236.2 L473.1 238.5 L472.8 240.3 L473.4 242.4 L473.2 244.6 L474.1 247.0 L474.2 249.1 L473.8 249.3 L475.1 250.7 L474.7 253.5 L475.0 255.0 L474.4 258.2 L474.8 259.7 L474.6 262.3 L475.0 263.8 L475.2 266.3 L475.7 267.2 L475.5 269.9 L475.3 272.3 L476.4 274.7 L475.7 275.2 L476.8 277.6 L476.6 279.6 L477.0 281.9 L477.0 283.2 L476.7 285.5 L476.8 286.8 L477.2 289.5 L476.9 291.8 L477.4 292.8 L477.2 295.5 L478.0 297.7 L477.7 299.4 L478.2 298.4 L477.9 295.4 L477.8 294.5 L478.9 292.0 L478.1 290.7 L478.4 288.8 L479.1 286.8 L478.9 284.4 L478.7 281.9 L478.9 279.8 L478.9 277.5 L479.4 276.0 L479.7 273.6 L479.8 273.0 L480.1 270.4 L480.0 268.5 L479.8 266.5 L479.8 264.7 L480.2 263.3 L481.3 261.2 L481.3 259.9 L481.3 258.0 L481.3 255.8 L481.9 254.4 L481.8 251.7 L481.2 249.8 L481.7 248.7 L482.1 247.1 L481.4 244.9 L481.9 242.1 L481.6 241.0 L481.4 238.3 L482.3 236.4 L482.1 235.2 L482.5 236.1 L482.0 238.3 L482.9 241.3 L481.9 242.3 L482.9 245.1 L482.5 246.4 L482.7 248.0 L483.0 250.1 L483.3 251.3 L483.3 253.2 L482.9 255.8 L482.8 257.6 L482.9 259.1 L483.6 261.5 L483.9 263.2 L483.6 265.7 L484.3 266.2 L484.2 268.8 L484.5 270.8 L484.0 273.0 L484.5 274.1 L484.8 271.7 L485.1 269.6 L485.4 268.7 L484.8 266.0 L485.5 264.6 L485.2 261.9 L485.8 260.6 L485.5 258.7 L485.9 257.1 L486.3 254.7 L486.8 253.2 L487.0 250.5 L486.9 249.5 L487.2 250.8 L486.8 253.4 L486.6 255.5 L487.4 256.9 L487.6 259.3 L487.7 260.7 L487.0 263.4 L486.9 265.5 L487.8 267.6 L487.4 268.9 L487.7 270.9 L488.0 268.2 L487.5 266.1 L487.7 264.9 L488.8 264.0 L488.1 261.6 L488.6 259.0 L488.6 257.5 L488.9 255.8 L489.2 255.1 L489.0 254.2 L489.6 251.4 L490.0 251.1 L490.0 249.2 L490.2 248.2 L490.8 246.1 L491.1 244.8 L490.9 246.9 L491.4 248.3 L491.0 250.9 L492.1 252.4 L491.7 253.9 L492.5 255.2 L492.1 257.4 L492.8 256.4 L492.4 253.3 L492.4 251.9 L493.1 249.3 L492.9 248.4 L493.2 246.3 L493.3 243.8 L494.2 241.7 L493.6 239.7 L493.6 239.1 L493.7 236.4 L494.5 234.5 L494.3 233.9 L495.2 231.3 L494.9 229.6 L495.3 228.1 L495.2 225.8 L495.3 226.2 L496.3 223.9 L496.8 223.7 L497.1 221.8 L496.8 220.2 L497.2 222.2 L496.8 223.8 L497.7 225.9 L496.9 227.0 L497.2 228.4 L498.0 230.4 L497.9 232.1 L498.0 234.5 L497.7 233.2 L498.0 231.5 L498.6 228.7 L498.0 226.7 L498.8 225.0 L498.6 223.9 L499.0 221.0 L499.2 219.7 L498.6 218.5 L499.3 216.8 L498.8 214.0 L499.1 212.3 L499.1 210.0 L499.0 207.8 L500.1 205.6 L500.0 203.7 L500.0 202.0 L499.9 204.6 L499.9 205.7 L500.0 208.5 L500.4 210.5 L501.2 212.6 L501.1 213.9 L501.2 213.9 L501.2 213.4 L501.7 211.9 L502.2 210.7 L502.6 213.2 L502.2 215.3 L503.3 217.2 L502.8 219.3 L503.1 220.6 L503.5 221.8 L503.4 220.8 L504.1 222.2 L504.0 222.2 L504.2 224.4 L504.8 223.4 L505.2 224.9 L505.7 226.5 L506.0 228.5 L506.0 231.4 L505.9 232.9 L506.6 234.0 L506.7 236.9 L506.7 238.6 L506.2 241.1 L507.0 242.4 L507.1 244.0 L507.6 246.6 L507.5 248.7 L507.6 249.4 L508.3 251.1 L508.0 249.3 L509.0 247.5 L508.8 245.4 L509.4 243.4 L508.8 241.8 L509.2 239.4 L509.5 237.7 L509.8 240.4 L510.2 236.5 L510.3 234.2 L510.6 236.1 L510.5 235.9 L511.1 237.3 L511.1 238.6 L511.4 236.9 L511.4 238.3 L512.3 240.8 L511.6 243.1 L512.6 243.9 L512.2 246.0 L513.0 247.2 L513.0 245.7 L513.8 245.0 L513.9 243.7 L514.3 243.7 L514.9 242.2 L514.6 242.4 L514.8 244.4 L515.5 244.7 L515.3 245.9 L515.3 246.1 L515.9 244.8 L516.6 242.8 L515.8 240.1 L517.0 238.5 L517.3 237.3 L517.0 234.5 L517.7 232.9 L516.9 230.9 L517.9 229.3 L517.9 227.1 L517.6 224.8 L518.1 223.4 L518.3 221.5 L518.1 220.0 L518.6 217.6 L519.0 217.1 L518.9 219.2 L519.7 220.4 L520.0 222.6 L519.4 224.9 L520.1 226.6 L520.4 224.5 L520.9 223.7 L521.1 222.4 L521.5 219.9 L521.3 218.6 L520.9 217.4 L521.5 215.9 L521.2 212.8 L522.0 211.8 L521.9 209.1 L522.7 207.9 L522.2 206.0 L522.4 198.9 L522.3 191.9 L522.5 184.9 L522.6 178.1 L522.8 171.1 L523.1 176.9 L523.3 182.9 L523.4 189.0 L523.6 195.0 L523.8 201.2 L524.5 199.0 L524.6 197.3 L523.8 195.4 L523.8 193.7 L523.8 191.2 L525.0 190.0 L524.4 187.8 L524.5 185.8 L524.7 184.4 L524.9 182.2 L524.6 183.5 L525.8 185.7 L525.1 188.3 L525.4 189.4 L525.8 192.0 L526.1 193.2 L526.0 194.9 L526.5 193.5 L527.1 192.3 L526.6 189.5 L527.4 189.1 L527.3 186.9 L527.3 188.3 L527.3 188.7 L528.1 189.8 L528.7 189.8 L528.5 191.7 L528.4 193.7 L529.2 193.3 L529.2 195.2 L529.0 196.4 L529.7 198.0 L529.9 199.0 L530.0 201.8 L530.6 202.6 L530.6 203.7 L531.2 205.9 L531.2 206.8 L531.3 205.3 L532.2 203.7 L531.8 202.5 L532.3 201.2 L532.9 199.1 L533.0 196.8 L532.6 194.5 L533.5 192.7 L533.1 190.9 L533.6 190.1 L534.1 189.6 L533.9 192.4 L533.9 194.5 L534.2 194.9 L534.4 194.6 L535.2 196.5 L535.2 195.2 L536.1 196.8 L535.6 194.8 L536.5 196.6 L537.0 195.7 L536.8 194.1 L536.5 191.5 L536.8 189.5 L537.7 189.0 L537.4 186.3 L538.1 185.4 L538.2 185.5 L538.1 188.0 L538.4 188.7 L539.2 190.1 L539.3 187.9 L539.4 185.6 L540.5 185.0 L539.8 182.7 L540.0 179.7 L540.7 178.2 L540.7 177.9 L541.2 176.9 L542.0 179.2 L541.5 179.8 L542.1 180.4 L542.3 180.6 L542.4 182.9 L543.0 183.1 L542.7 185.6 L543.3 187.1 L544.0 186.7 L543.9 188.5 L544.4 186.9 L544.8 184.9 L544.7 185.3 L545.3 182.7 L545.4 182.1 L545.5 181.4 L545.5 182.4 L545.5 183.1 L545.8 185.5 L546.8 185.7 L547.1 185.8 L547.1 186.9 L547.0 189.2 L547.3 190.6 L547.7 192.4 L547.9 192.3 L548.3 193.0 L548.7 194.9 L548.5 196.0 L549.4 198.3 L549.8 201.1 L549.2 203.3 L549.4 203.8 L549.9 206.0 L549.6 208.1 L550.3 210.2 L550.9 212.8 L551.0 214.8 L551.1 215.9 L550.9 218.7 L551.0 220.2 L551.0 219.3 L551.7 217.8 L551.8 214.8 L551.7 214.1 L552.3 212.3 L552.8 214.5 L552.2 216.0 L552.4 218.9 L553.1 220.0 L553.4 221.8 L553.9 223.0 L554.3 221.5 L554.7 220.6 L554.5 220.2 L555.2 221.9 L555.4 224.3 L555.7 226.2 L555.3 228.7 L556.0 230.2 L555.8 231.3 L556.2 233.6 L555.9 234.7 L556.5 235.9 L556.2 237.7 L557.4 240.9 L557.1 242.4 L557.3 244.3 L557.1 246.5 L557.0 247.8 L558.1 249.2 L558.2 252.0 L557.9 253.5 L558.0 255.1 L558.5 257.1 L558.2 260.0 L558.5 262.0 L558.6 264.2 L558.2 266.2 L558.1 268.3 L558.5 269.3 L558.7 267.9 L558.7 266.2 L559.4 263.1 L559.3 262.0 L558.9 260.1 L559.8 257.8 L560.0 256.6 L559.9 253.5 L559.8 251.9 L559.9 250.1 L559.8 247.6 L560.4 246.2 L560.5 244.1 L561.2 242.8 L560.7 241.1 L561.3 239.2 L561.4 238.1 L562.4 236.6 L562.1 233.2 L562.1 232.4 L562.5 229.7 L562.5 228.3 L562.6 225.3 L563.0 223.4 L563.5 222.7 L563.7 221.0 L563.7 223.7 L563.5 224.9 L564.2 227.0 L564.2 229.5 L564.5 230.6 L564.3 232.3 L565.0 234.5 L564.7 235.0 L566.1 235.4 L566.2 237.7 L566.1 239.2 L566.8 240.7 L566.5 243.2 L566.4 244.7 L567.2 245.6 L567.2 248.3 L568.3 249.1 L568.0 249.0 L568.2 251.1 L568.1 249.8 L567.9 247.6 L569.1 245.5 L569.1 243.8 L568.5 240.9 L569.4 239.1 L569.7 237.1 L569.3 236.1 L569.9 233.7 L569.3 232.3 L569.5 231.4 L569.2 229.3 L570.4 227.8 L570.3 224.8 L570.1 223.4 L570.7 224.6 L570.3 226.7 L570.1 229.7 L570.8 231.9 L571.5 233.2 L571.3 234.5 L571.6 235.2 L572.3 233.5 L571.7 231.8 L572.0 230.7 L573.0 231.9 L572.9 231.3 L573.2 231.5 L573.4 233.4 L573.6 234.3 L574.5 234.1 L574.5 236.0 L574.5 237.7 L575.1 238.9 L575.3 240.3 L575.4 239.1 L575.6 240.8 L575.7 239.1 L575.8 238.9 L576.8 237.9 L576.7 236.1 L577.1 236.0 L577.2 233.7 L577.9 233.0 L577.9 232.4 L577.9 232.7 L578.5 234.2 L578.1 235.7 L578.8 236.1 L579.5 237.5 L579.6 239.5 L579.4 242.7 L579.9 244.0 L579.8 242.4 L580.0 239.8 L580.9 239.7 L581.1 237.1 L581.2 236.1 L581.4 233.2 L581.2 231.6 L582.2 230.7 L581.8 228.6 L582.4 226.6 L582.1 226.9 L582.3 225.6 L582.1 223.8 L582.3 222.6 L583.0 219.7 L582.9 217.5 L583.7 216.6 L583.4 218.3 L584.5 219.1 L584.8 221.1 L584.5 222.3 L585.0 223.8 L585.5 225.6 L585.2 226.9 L584.9 230.2 L585.5 231.1 L586.0 233.3 L585.7 235.6 L586.1 237.9 L585.6 240.2 L586.1 241.2 L585.9 239.5 L586.2 237.4 L587.1 235.9 L587.7 234.0 L587.4 231.7 L587.4 233.0 L588.3 236.1 L588.6 237.6 L588.0 240.1 L588.5 242.0 L589.0 240.7 L589.3 239.6 L589.9 238.4 L589.6 238.0 L589.2 235.6 L590.3 233.1 L590.5 232.3 L591.0 229.3 L590.8 227.7 L591.5 230.0 L591.1 231.7 L592.1 232.8 L591.4 235.4 L592.1 238.0 L592.6 239.9 L592.3 241.1 L592.8 241.5 L593.0 242.5 L593.4 243.0 L593.7 241.2 L593.9 241.1 L594.4 241.7 L594.5 241.8 L595.0 242.8 L595.0 242.3 L595.3 243.6 L595.5 241.7 L595.5 240.3 L595.9 238.4 L596.4 236.5 L596.9 235.8 L597.0 234.6 L597.7 232.1 L597.5 230.9 L597.9 231.7 L598.1 232.1 L597.9 234.2 L598.3 234.8 L598.9 234.8 L599.1 236.5 L599.2 235.1 L599.9 234.9 L599.6 235.5 L600.4 233.9 L600.4 234.1 L600.8 233.4 L601.1 232.7 L600.6 230.6 L600.8 229.6 L601.6 229.3 L601.8 231.4 L601.6 232.2 L602.7 233.3 L602.7 233.3 L602.5 231.2 L603.5 229.9 L603.3 227.5 L603.8 224.9 L604.5 223.7 L604.3 221.4 L604.3 223.9 L604.9 222.2 L604.7 221.8 L605.7 220.3 L605.3 221.5 L605.9 223.0 L606.0 223.1 L606.9 223.3 L606.3 221.1 L606.8 221.3 L607.2 219.8 L607.0 220.8 L607.9 222.6 L608.3 224.6 L608.3 226.1 L608.4 223.8 L608.2 222.9 L609.3 221.9 L609.5 220.6 L609.5 219.8 L610.1 221.0 L609.8 221.0 L610.5 223.0 L610.0 223.6 L610.7 225.4 L611.3 228.0 L611.2 229.7 L612.1 231.0 L611.8 233.3 L611.9 234.1 L612.3 235.9 L612.9 236.2 L612.9 237.6 L613.0 239.6 L613.7 238.4 L614.1 237.1 L614.2 236.6 L614.1 237.2 L614.3 237.8 L615.2 239.5 L614.5 242.1 L614.8 242.7 L615.4 244.4 L614.9 246.1 L615.8 247.2 L615.6 249.0 L615.5 251.7 L616.1 253.4 L616.1 255.0 L616.8 256.9 L616.3 257.3 L616.2 258.7 L617.1 259.1 L617.9 260.3 L618.0 261.3 L617.8 263.9 L618.1 265.2 L618.5 267.5 L618.5 269.9 L619.1 272.5 L619.0 273.7 L618.7 275.2 L619.4 277.2 L620.1 275.4 L619.8 274.3 L620.3 274.0 L620.5 272.8 L620.3 271.3 L620.8 272.3 L621.4 269.7 L621.3 269.4 L622.1 268.4 L621.9 267.4 L622.2 267.2 L622.6 269.6 L623.1 270.4 L622.7 272.3 L623.3 273.5 L623.1 274.6 L623.3 276.5 L623.9 278.3 L623.9 279.9 L624.8 280.9 L624.5 284.5 L625.0 286.2 L625.6 287.6 L625.5 289.4 L625.6 290.9 L626.3 293.6 L626.7 295.8 L626.9 297.8 L627.0 299.7 L627.0 301.6 L627.5 303.5 L627.0 305.2 L627.5 306.4 L627.3 308.8 L627.4 310.5 L628.0 309.0 L627.6 307.0 L628.5 305.0 L628.7 303.3 L628.6 301.0 L628.9 299.4 L628.6 302.0 L629.6 303.6 L629.9 305.4 L628.9 307.8 L629.8 309.5 L630.1 311.5 L629.8 313.4 L629.5 314.0 L629.7 316.2 L630.2 318.6 L630.7 320.9 L630.5 322.1 L630.6 321.4 L630.9 317.8 L630.8 315.5 L631.6 314.9 L631.4 313.6 L631.8 311.8 L632.8 310.9 L633.0 311.3 L632.7 310.8 L632.8 309.4 L633.3 307.2 L633.9 306.5 L633.5 304.1 L634.6 300.8 L634.4 299.4 L634.5 300.7 L635.4 302.9 L635.3 304.2 L635.5 304.9 L635.6 303.6 L636.3 300.8 L636.1 298.8 L635.7 297.7 L635.9 295.8 L635.8 293.2 L636.3 291.6 L636.2 290.4 L636.5 288.2 L636.9 285.5 L637.1 284.6 L636.4 282.4 L637.1 280.5 L636.8 279.2 L637.0 277.2 L637.5 279.1 L637.2 281.5 L637.0 282.8 L637.1 284.0 L637.1 285.9 L637.9 287.2 L637.7 289.8 L637.8 291.6 L637.8 293.3 L638.0 294.8 L637.7 296.3 L637.7 298.4 L638.1 300.8 L638.7 302.9 L638.6 305.0 L638.1 307.1 L638.5 308.3 L639.0 307.0 L639.0 304.7 L638.6 303.5 L639.0 300.4 L638.8 298.9 L639.4 297.2 L640.0 295.0 L639.2 293.3 L639.9 291.2 L639.9 289.4 L640.0 288.3 L640.2 286.2 L641.0 284.4 L641.3 281.5 L641.1 280.5 L641.9 280.4 L641.6 283.1 L642.3 284.0 L642.2 285.0 L642.2 283.5 L642.3 281.6 L643.0 279.3 L643.1 276.9 L643.3 275.0 L643.7 272.7 L643.4 272.4 L644.3 271.3 L644.6 269.0 L643.9 269.0 L644.7 267.2 L645.4 268.2 L645.7 269.5 L645.7 271.4 L645.7 272.6 L645.5 274.3 L646.1 276.1 L646.8 278.1 L647.2 279.0 L647.4 280.8 L646.8 283.4 L647.8 285.9 L647.7 286.6 L648.2 284.9 L648.7 284.2 L648.2 283.1 L649.2 281.4 L648.8 281.1 L649.5 280.2 L649.4 279.4 L649.6 278.1 L649.8 275.0 L650.1 274.2 L650.5 271.6 L650.8 272.3 L651.1 271.0 L651.4 269.4 L651.6 270.0 L652.3 272.0 L651.6 273.0 L652.9 275.4 L652.4 276.6 L652.8 278.4 L653.3 278.4 L653.3 280.5 L653.3 281.7 L653.6 281.1 L653.9 282.7 L654.3 281.6 L654.4 282.8 L655.2 283.4 L655.0 285.0 L655.4 287.0 L655.5 289.3 L655.0 291.0 L655.2 292.1 L655.6 294.5 L655.3 295.4 L655.8 297.1 L656.7 299.5 L656.6 301.7 L656.8 304.0 L657.4 305.5 L657.4 307.6 L657.5 310.3 L657.8 311.4 L657.9 313.9 L657.4 315.4 L658.0 316.7 L657.9 318.5 L658.8 319.9 L658.6 321.3 L659.1 324.5 L658.6 326.0 L659.1 327.8 L658.8 325.6 L659.2 324.0 L659.8 322.9 L659.5 320.2 L659.0 318.3 L660.1 316.5 L659.8 314.5 L659.3 313.2 L659.9 311.1 L660.6 313.5 L660.2 313.8 L660.9 314.1 L661.0 316.7 L661.3 317.2 L661.9 318.4 L662.3 320.4 L662.4 321.8 L662.3 324.6 L662.9 326.1 L662.7 328.7 L663.0 329.8 L663.4 332.3 L663.4 334.2 L663.2 336.4 L662.8 337.8 L663.9 338.6 L663.4 341.1 L663.6 342.8 L663.4 341.3 L663.4 339.1 L663.6 337.1 L663.7 335.4 L664.2 333.1 L664.5 330.8 L663.9 329.4 L664.3 327.1 L664.6 325.7 L664.3 323.7 L664.3 322.6 L665.1 321.1 L664.7 318.3 L664.3 321.5 L664.6 322.3 L665.5 324.5 L665.2 327.3 L665.4 329.2 L665.2 330.0 L665.8 332.5 L665.8 330.1 L666.0 331.6 L666.8 331.6 L667.0 329.5 L667.1 331.0 L667.3 328.3 L667.8 327.8 L667.5 325.2 L667.9 325.2 L668.3 323.0 L668.4 321.3 L669.0 320.0 L668.8 318.2 L669.2 316.3 L669.4 314.3 L669.1 315.6 L669.6 318.6 L670.2 320.8 L670.7 322.3 L670.7 323.0 L671.2 321.9 L671.5 320.3 L671.1 318.3 L671.6 316.3 L671.8 313.5 L672.1 315.3 L671.6 317.7 L671.9 319.8 L672.6 320.7 L672.6 322.9 L672.9 324.5 L672.2 326.0 L672.2 327.9 L672.3 329.9 L673.1 331.8 L672.9 334.1 L672.6 332.6 L673.3 332.4 L674.1 330.7 L673.4 330.5 L674.2 331.0 L674.1 329.6 L674.1 326.6 L675.1 324.0 L675.1 322.7 L675.3 320.7 L675.8 322.1 L675.9 325.3 L675.5 327.8 L675.8 328.3 L676.1 329.6 L676.6 332.5 L676.6 334.7 L676.7 336.6 L677.3 337.6 L677.7 339.5 L677.8 342.1 L677.7 343.5 L677.8 346.1 L678.2 348.4 L678.1 351.0 L678.8 352.6 L678.9 355.1 L678.9 356.3 L679.3 357.7 L678.9 360.4 L679.4 362.3 L679.5 364.9 L680.1 365.9 L680.5 368.2 L680.4 368.9 L680.8 371.4 L680.6 369.9 L681.6 368.1 L680.8 365.3 L681.2 363.8 L682.1 362.9 L682.0 360.4 L681.4 358.6 L681.6 357.4 L682.1 354.7 L682.2 352.3 L682.3 349.9 L683.0 348.5 L683.0 346.7 L682.8 345.4 L682.6 342.8 L682.8 341.1 L683.1 339.4 L683.2 337.3 L683.5 335.2 L683.2 334.5 L683.2 331.7 L683.4 329.2 L684.5 327.9 L684.9 326.7 L684.5 324.6 L684.8 323.5 L684.2 321.3 L684.7 319.1 L684.6 317.6 L685.2 315.8 L685.4 314.0 L685.9 311.5 L685.8 310.4 L686.1 311.1 L686.4 308.4 L686.9 311.3 L686.3 310.6 L687.1 311.5 L687.2 308.8 L686.9 310.6 L687.2 313.2 L687.8 314.2 L688.4 316.0 L688.4 318.3 L688.8 317.9 L689.0 316.1 L689.3 316.5 L689.5 315.9 L689.7 313.5 L689.3 312.7 L690.0 310.0 L690.7 308.4 L690.2 306.3 L690.4 304.5 L691.1 302.7 L690.4 299.7 L690.8 298.5 L691.4 300.8 L691.6 302.9 L690.8 304.7 L691.4 305.9 L691.1 307.6 L691.4 309.9 L691.6 311.9 L691.8 311.4 L691.9 314.6 L692.6 315.3 L692.7 314.0 L692.9 313.5 L692.8 314.9 L693.4 315.9 L693.2 318.8 L694.0 319.9 L694.0 317.7 L695.0 318.6 L695.2 317.1 L695.1 317.0 L694.9 318.3 L695.6 316.7 L696.2 318.4 L696.2 319.6 L696.0 322.3 L695.9 323.4 L696.9 325.6 L696.2 328.1 L696.8 329.4 L696.4 331.1 L697.4 333.8 L696.8 334.7 L697.8 337.6 L697.1 339.9 L697.2 341.7 L697.9 344.2 L697.3 346.1 L697.8 347.2 L698.1 349.2 L698.7 347.5 L698.3 345.3 L698.8 342.6 L699.4 340.2 L699.2 338.9 L699.1 338.4 L699.9 337.5 L700.2 335.1 L699.9 335.0 L700.1 332.7 L700.6 332.5 L700.8 331.6 L700.7 330.8 L701.2 328.0 L701.2 328.1 L701.9 326.2 L701.9 327.1 L702.2 328.3 L703.0 329.7 L702.5 332.6 L703.3 333.9 L703.5 335.7 L703.6 333.4 L704.4 333.0 L704.6 333.7 L704.8 332.8 L704.7 330.7 L705.1 331.0 L705.5 329.5 L705.9 332.0 L706.1 330.9 L706.1 333.8 L706.5 332.5 L706.7 332.5 L707.5 333.2 L707.3 331.2 L707.2 331.2 L707.3 328.8 L708.3 328.6 L708.3 327.8 L708.5 325.9 L708.8 326.9 L709.4 325.0 L709.1 324.9 L709.5 323.0 L709.8 320.7 L710.4 319.6 L709.8 317.8 L710.0 315.7 L710.4 313.7 L710.6 311.9 L711.3 312.0 L711.1 311.2 L711.0 310.3 L711.8 309.3 L711.8 308.1 L712.2 305.6 L711.9 306.6 L713.1 305.7 L713.4 303.4 L713.6 301.7 L713.4 301.2 L713.8 300.8 L714.4 299.1 L713.9 299.5 L714.3 299.9 L714.9 297.7 L714.6 295.7 L714.5 293.5 L715.1 291.9 L715.0 290.8 L714.5 288.1 L715.1 285.6 L715.2 284.5 L715.3 283.6 L715.5 281.0 L715.7 279.2 L716.5 277.3 L716.3 276.8 L716.2 275.4 L716.8 274.5 L717.0 272.2 L717.8 270.5 L717.1 268.8 L717.3 266.0 L717.9 265.0 L717.7 266.6 L718.5 269.5 L718.4 271.7 L718.4 273.4 L719.1 274.4 L718.5 277.3 L718.9 279.2 L719.5 277.1 L718.9 275.7 L719.4 272.7 L719.1 271.4 L719.6 268.6 L720.0 266.4 L719.6 265.3 L720.0 263.4 L720.6 265.2 L720.9 266.6 L720.9 269.8 L721.1 271.3 L721.2 269.9 L721.7 268.3 L721.8 266.1 L721.8 263.9 L722.4 261.8 L722.5 264.6 L722.8 263.4 L723.3 261.1 L723.1 261.6 L723.7 263.4 L723.8 260.5 L724.4 260.1 L724.0 258.3 L724.7 255.7 L724.9 253.7 L724.8 252.3 L725.4 250.5 L725.7 249.7 L725.6 248.3 L725.9 251.0 L726.5 253.1 L726.6 254.9 L726.3 256.2 L726.6 258.3 L726.2 259.3 L726.3 261.5 L726.8 263.4 L726.4 261.5 L726.8 260.2 L726.8 257.9 L727.7 255.6 L727.9 254.5 L727.9 252.3 L727.9 253.0 L728.7 253.8 L728.6 254.3 L729.3 255.2 L729.4 254.5 L729.5 255.5 L729.9 253.5 L730.0 256.6 L730.1 255.0 L730.4 254.4 L731.2 254.0 L731.1 257.1 L731.3 256.7 L731.2 257.8 L732.1 260.4 L731.9 261.4 L732.7 261.4 L732.7 261.8 L732.5 264.3 L733.4 261.9 L733.8 262.7 L733.3 264.0 L734.0 265.0 L733.9 265.5 L735.1 267.3 L735.1 270.3 L735.1 271.3 L735.8 272.4 L736.0 274.0 L736.1 275.2 L736.1 277.5 L736.3 279.2 L736.6 277.2 L737.1 276.6 L737.6 274.4 L737.4 272.9 L737.6 275.4 L738.2 276.9 L737.8 278.2 L738.5 280.8 L739.2 281.6 L738.6 284.0 L739.0 282.8 L739.5 283.7 L739.8 285.6 L740.1 286.8 L740.2 286.0 L740.3 287.4 L740.6 287.8 L740.4 289.5 L741.0 290.2 L741.8 290.8 L742.2 292.1 L742.0 294.7 L742.6 295.8 L743.0 298.2 L742.3 299.7 L743.3 300.0 L743.2 302.6 L743.6 304.7 L743.7 305.2 L744.5 303.6 L744.7 301.5 L744.0 300.6 L745.2 298.6 L745.3 295.8 L745.1 294.7 L745.6 295.0 L745.2 294.1 L745.4 294.9 L746.4 294.5 L746.6 292.2 L746.9 291.5 L746.9 291.3 L747.6 289.2 L747.7 288.7 L748.0 288.1 L747.9 286.7 L748.1 284.9 L748.8 283.9 L748.6 284.3 L748.8 283.9 L749.5 285.9 L748.9 285.4 L749.8 284.6 L749.8 282.5 L750.6 284.6 L750.4 287.0 L750.1 288.3 L751.3 289.2 L751.0 291.3 L751.5 293.0 L751.9 291.1 L751.4 294.4 L752.3 292.8 L752.0 295.3 L752.4 294.7 L752.2 293.3 L753.4 291.2 L753.0 288.5 L753.9 286.7 L754.1 285.0 L753.8 284.3 L754.3 283.3 L754.6 280.6 L754.6 279.8 L754.9 277.8 L755.1 277.3 L755.1 277.9 L755.5 279.5 L755.7 276.0 L756.2 276.5 L756.5 277.4 L756.6 276.7 L756.8 276.4 L756.8 278.4 L757.1 274.1 L757.2 273.9 L757.4 274.2 L758.0 277.0 L758.4 277.5 L758.5 274.7 L758.5 277.1 L758.7 277.7 L759.2 278.7 L759.2 281.0 L759.8 282.5 L759.8 280.5 L760.6 280.8 L760.1 280.2 L760.3 277.5 L761.3 277.2 L761.2 275.6 L761.1 277.0 L761.6 277.3 L761.8 279.2 L762.1 279.4 L762.1 279.6 L763.1 280.2 L762.9 280.8 L763.2 280.6 L763.3 280.7 L763.7 280.2 L763.9 280.6 L764.3 283.6 L764.3 281.7 L764.8 279.9 L764.7 279.4 L764.9 279.1 L764.7 277.4 L766.0 278.3 L765.7 276.1 L766.0 275.6 L765.7 273.6 L766.9 273.6 L766.5 271.0 L767.4 270.4 L767.3 268.6 L767.4 267.1 L768.1 265.1 L768.5 264.8 L768.4 262.0 L768.8 262.0 L768.3 259.7 L769.0 258.1 L769.5 256.1 L769.8 254.8 L769.7 255.1 L770.5 255.3 L769.7 253.7 L770.4 252.6 L770.7 251.2 L771.5 249.3 L770.8 248.5 L771.3 246.2 L771.5 245.2 L772.4 243.6 L772.5 241.5 L772.5 240.7 L772.2 242.0 L773.1 244.9 L773.6 246.3 L773.2 247.7 L773.7 249.7 L773.7 251.2 L773.5 248.8 L773.8 248.2 L774.6 246.6 L774.7 246.5 L775.1 244.0 L775.6 242.4 L775.5 241.6 L776.0 239.9 L775.6 241.7 L776.6 240.7 L776.8 240.6 L776.8 243.3 L777.2 243.1 L777.4 245.2 L777.6 245.5 L777.3 247.2 L777.5 247.1 L778.2 247.7 L777.9 247.7 L778.5 248.9 L779.2 249.0 L778.8 249.0 L779.3 250.0 L779.7 251.0 L780.0 252.0 L779.9 249.7 L780.7 248.4 L780.1 247.2 L780.9 246.2 L781.2 244.2 L781.2 241.7 L782.1 240.0 L781.7 238.8 L781.9 236.7 L782.4 235.5 L782.6 233.4 L783.0 236.9 L783.3 237.2 L783.3 236.1 L783.5 232.3 L783.9 232.7 L784.2 236.2 L784.3 234.4 L784.7 234.6 L784.6 236.8 L785.7 235.8 L785.7 238.0 L786.1 238.8 L786.0 239.0 L786.1 238.9 L786.5 241.7 L786.8 242.4 L786.0 245.3 L786.6 247.3 L787.2 248.6 L786.5 250.1 L787.3 252.9 L787.7 249.8 L787.4 248.2 L788.5 246.6 L787.8 244.2 L788.7 242.8 L788.7 240.7 L789.3 241.1 L789.6 242.9 L789.7 241.3 L789.7 242.5 L789.7 243.5 L790.2 245.1 L790.4 244.2 L791.0 242.6 L790.7 240.9 L791.3 240.9 L791.1 243.0 L792.0 241.9 L791.6 242.3 L792.2 241.6 L792.1 243.1 L793.1 242.3 L793.1 243.5 L793.5 242.3 L793.8 243.2 L793.6 244.0 L793.9 245.1 L794.1 244.5 L794.0 245.0 L795.1 243.5 L795.4 244.6 L795.2 244.0 L795.5 243.6 L795.7 241.6 L796.2 241.9 L795.7 242.6 L796.5 243.9 L797.1 245.5 L796.9 246.8 L796.9 248.2 L797.1 249.4 L797.9 246.8 L797.7 249.1 L798.2 247.6 L798.1 246.7 L798.6 248.5 L799.2 247.4 L798.9 246.3 L799.6 246.2 L799.5 246.6 L799.8 245.7 L800.4 245.5 L800.4 243.3 L800.5 243.1 L801.3 241.5 L800.9 241.7 L801.0 239.2 L801.1 240.5 L801.9 240.1 L802.1 238.1 L802.4 238.8 L802.7 237.5 L803.2 235.6 L802.8 234.2 L803.5 237.0 L803.8 238.3 L803.9 236.3 L804.7 239.3 L804.7 239.7 L804.7 242.4 L805.3 244.2 L804.8 245.6 L805.4 246.1 L805.3 249.0 L805.9 249.7 L806.1 251.2 L806.7 250.2 L806.7 252.2 L807.0 250.2 L807.3 250.5 L807.4 250.3 L807.2 251.6 L807.9 253.7 L807.8 255.3 L807.8 256.8 L808.6 258.1 L808.4 257.6 L809.1 259.8 L809.7 261.3 L809.3 261.1 L810.0 262.7 L809.9 264.4 L810.3 263.4 L811.0 264.9 L810.7 266.5 L811.3 268.8 L811.7 271.2 L811.1 274.3 L811.7 275.6 L812.0 277.9 L812.0 279.3 L811.7 281.3 L812.2 284.3 L813.2 286.3 L813.1 287.1 L813.1 289.5 L813.4 290.5 L813.2 294.0 L814.2 296.2 L814.7 296.7 L814.9 298.3 L814.9 300.6 L814.9 302.6 L815.1 301.0 L814.9 299.2 L815.5 297.6 L815.3 295.8 L815.2 293.5 L815.6 290.9 L815.4 289.7 L816.3 288.6 L816.4 286.9 L816.1 284.3 L816.7 285.6 L816.3 286.0 L817.3 288.4 L817.2 287.5 L817.3 289.5 L817.7 287.1 L818.2 284.9 L818.5 283.4 L818.0 281.5 L819.1 279.4 L819.1 278.3 L819.0 276.4 L819.2 275.9 L818.9 278.3 L820.2 279.8 L819.4 279.6 L819.6 280.3 L820.4 280.8 L820.1 278.3 L820.6 277.4 L820.9 275.0 L821.9 273.0 L822.0 271.6 L821.8 268.6 L822.4 267.7 L822.2 265.6 L822.3 267.3 L822.9 265.7 L823.1 265.1 L823.1 265.7 L824.1 267.6 L824.3 269.7 L824.2 270.7 L824.3 271.2 L824.1 269.0 L825.2 269.1 L825.4 266.9 L825.3 265.1 L824.9 267.7 L825.7 269.1 L825.0 270.8 L825.4 272.9 L825.8 275.0 L825.3 276.5 L825.4 277.7 L825.9 279.0 L826.0 281.7 L825.8 279.6 L826.3 278.7 L826.5 275.7 L826.7 274.3 L826.5 271.4 L826.8 270.5 L827.4 268.6 L828.0 267.2 L828.4 267.8 L827.6 265.2 L828.5 265.7 L828.1 263.9 L828.6 263.0 L829.2 262.5 L828.9 264.3 L830.2 265.1 L830.4 267.5 L830.2 268.4 L830.6 271.3 L830.6 272.1 L830.9 273.5 L831.2 274.5 L831.5 276.9 L831.9 279.0 L831.8 279.9 L831.8 281.3 L831.6 283.4 L832.0 284.8 L832.6 287.4 L832.5 288.6 L832.9 291.4 L833.0 293.0 L833.0 293.7 L833.6 294.5 L833.7 293.8 L833.5 295.4 L834.1 297.5 L834.4 296.5 L834.3 295.8 L835.1 296.2 L835.3 294.5 L835.3 294.7 L835.6 297.4 L835.6 299.5 L835.3 301.1 L836.0 302.1 L836.5 305.1 L836.1 306.3 L836.1 308.7 L836.2 311.1 L836.5 312.2 L836.2 309.8 L836.8 307.7 L837.0 305.8 L836.8 305.1 L837.2 304.0 L837.5 301.7 L837.6 301.5 L838.0 299.5 L838.6 297.2 L838.2 294.9 L838.7 294.7 L839.4 292.2 L838.6 290.5 L839.5 288.4 L839.6 286.9 L839.5 287.3 L840.0 287.7 L840.2 286.4 L841.0 285.8 L840.8 285.2 L840.5 287.8 L840.9 289.6 L841.8 290.4 L841.2 293.2 L841.8 295.0 L841.7 296.5 L841.4 298.0 L842.6 299.9 L842.4 301.4 L841.9 302.7 L842.2 305.8 L842.8 307.0 L843.1 308.0 L842.9 309.6 L842.9 312.5 L843.9 314.5 L843.6 315.7 L844.3 316.6 L843.7 319.6 L844.6 321.0 L844.5 322.6 L844.5 534.5 Z" fill="#f2f2f2" stroke="none"/>
<path d="M73.2 311.6 L72.9 309.3 L72.9 307.8 L73.3 305.7 L73.6 303.0 L73.6 300.8 L73.8 299.7 L73.4 296.9 L74.4 295.7 L73.7 293.6 L74.7 292.5 L74.1 290.8 L73.8 289.6 L74.4 287.1 L74.8 290.0 L75.1 290.9 L74.4 292.9 L74.9 294.7 L75.1 297.4 L75.1 295.5 L74.9 293.7 L75.2 291.0 L75.6 289.9 L76.0 287.7 L75.8 285.9 L76.4 284.7 L76.3 282.3 L76.6 280.0 L77.2 278.4 L76.7 276.9 L76.8 275.6 L77.7 272.9 L77.7 270.1 L77.9 268.8 L78.4 266.3 L78.5 266.5 L78.5 265.9 L79.1 264.5 L79.2 262.5 L79.4 263.2 L80.1 264.7 L80.1 262.6 L80.3 261.7 L80.8 259.7 L81.4 259.9 L80.9 259.5 L81.4 257.7 L81.1 259.5 L81.3 260.7 L81.7 262.5 L80.8 264.2 L81.4 266.1 L80.6 268.3 L81.0 269.8 L80.5 272.2 L80.4 274.6 L80.8 276.0 L81.2 276.3 L80.9 277.2 L82.0 279.4 L82.2 278.4 L82.2 278.9 L82.4 280.7 L82.9 280.9 L83.0 279.3 L83.1 280.7 L83.2 283.8 L83.5 283.1 L84.3 283.5 L83.8 285.4 L84.1 286.0 L84.7 284.1 L84.7 282.8 L85.1 284.7 L85.9 284.2 L86.0 285.6 L86.4 287.0 L86.5 287.3 L86.5 288.5 L86.2 289.5 L87.3 291.8 L87.3 292.4 L87.4 294.2 L88.1 294.8 L87.3 297.4 L88.1 297.9 L88.8 297.9 L88.9 299.4 L89.2 301.8 L88.5 301.7 L89.7 303.4 L90.1 304.8 L89.8 306.1 L89.5 307.6 L90.1 309.7 L90.7 309.8 L90.5 310.7 L90.8 312.7 L91.7 313.6 L91.1 316.2 L91.9 316.8 L92.2 319.8 L92.4 319.8 L92.6 315.8 L92.7 314.9 L93.0 312.9 L93.4 314.2 L93.5 318.5 L93.8 316.4 L94.5 319.2 L94.2 318.8 L94.4 314.9 L94.6 313.4 L95.5 315.5 L95.4 314.8 L95.4 313.4 L95.9 311.3 L95.8 308.5 L96.0 307.5 L95.7 305.7 L96.1 302.9 L95.8 301.3 L96.3 299.1 L95.9 298.2 L96.6 295.7 L95.8 294.2 L95.9 291.4 L96.8 290.6 L96.9 287.8 L96.8 287.0 L96.8 284.4 L96.2 281.9 L96.9 280.7 L97.2 279.4 L97.6 277.3 L97.7 275.2 L97.0 273.8 L97.2 271.2 L97.7 269.1 L97.6 267.2 L98.3 265.2 L97.9 264.1 L98.0 261.8 L98.7 260.6 L98.8 258.6 L98.5 256.9 L98.0 255.1 L98.3 253.3 L99.2 250.7 L99.0 249.8 L99.1 251.0 L99.0 253.6 L99.1 255.1 L98.9 257.2 L99.2 258.5 L99.3 260.9 L99.1 258.5 L99.5 257.5 L100.0 255.7 L99.7 254.4 L99.9 252.2 L100.2 250.2 L100.1 248.2 L100.3 246.2 L101.0 244.2 L101.1 242.6 L100.5 241.1 L101.5 238.7 L101.2 236.3 L101.0 235.4 L101.6 232.5 L101.6 230.3 L102.3 228.6 L102.8 228.4 L102.6 226.5 L102.6 227.8 L103.5 230.3 L102.7 232.9 L102.9 233.7 L103.7 235.5 L103.5 238.5 L104.1 239.5 L104.4 240.9 L104.8 243.1 L105.1 244.4 L105.7 247.1 L105.5 248.9 L105.7 250.6 L106.1 251.4 L106.1 254.1 L105.8 255.0 L106.0 257.9 L106.8 259.3 L106.7 256.7 L107.5 254.5 L106.9 252.8 L108.0 251.3 L107.4 250.1 L108.3 247.3 L108.0 245.8 L108.4 244.0 L107.8 241.5 L108.4 240.6 L109.2 238.0 L109.2 237.0 L109.4 234.5 L109.6 232.4 L109.3 231.6 L109.2 229.4 L110.0 227.9 L109.1 225.7 L109.3 224.1 L109.3 221.7 L109.4 219.7 L109.6 218.1 L109.6 217.1 L109.6 215.0 L109.4 212.9 L110.1 211.3 L109.7 208.9 L110.5 207.9 L110.6 205.3 L110.4 204.5 L110.9 202.8 L111.2 200.2 L111.0 201.8 L111.7 202.6 L111.4 204.5 L111.8 205.2 L112.4 206.6 L112.3 208.7 L112.8 210.2 L113.2 211.4 L112.5 213.1 L113.3 215.1 L112.6 216.8 L113.0 219.8 L113.6 221.1 L113.4 222.8 L113.5 224.3 L113.0 226.3 L113.7 228.7 L114.0 227.5 L114.7 224.7 L114.2 222.5 L114.4 220.0 L114.8 219.2 L115.0 216.8 L115.2 214.4 L115.2 211.9 L115.6 209.9 L115.9 208.9 L116.6 209.7 L116.4 212.0 L116.2 214.4 L116.1 216.7 L116.0 218.6 L116.8 219.9 L117.1 222.6 L116.6 224.3 L116.5 225.0 L116.8 227.9 L116.7 229.8 L117.2 231.1 L117.4 228.7 L117.9 227.2 L118.1 225.9 L118.3 223.8 L118.2 222.0 L117.6 219.3 L118.2 217.0 L118.9 215.0 L118.8 213.8 L118.8 212.1 L118.7 214.2 L119.6 215.9 L118.9 218.3 L119.3 219.8 L119.9 221.8 L119.8 223.9 L119.9 224.8 L120.1 227.4 L119.3 229.6 L120.2 231.1 L119.9 232.9 L120.1 235.3 L120.4 236.7 L120.0 235.3 L120.4 232.6 L120.6 231.6 L120.4 229.7 L120.9 227.0 L121.5 226.1 L121.2 224.5 L121.6 222.4 L121.8 220.7 L121.7 218.6 L122.0 217.6 L123.2 216.3 L122.9 212.5 L123.2 211.3 L122.9 212.9 L123.9 212.9 L123.4 213.1 L124.1 213.5 L124.4 214.0 L125.0 216.8 L124.9 218.1 L125.1 217.7 L125.4 216.7 L125.8 213.9 L124.8 212.1 L125.5 209.6 L125.4 208.2 L125.5 206.0 L126.2 204.4 L126.2 202.1 L125.5 201.5 L126.4 200.2 L125.9 198.4 L126.2 195.8 L126.4 193.9 L126.6 200.5 L126.9 206.6 L127.2 212.8 L127.1 219.0 L127.5 225.6 L128.2 223.2 L127.5 221.3 L127.5 219.9 L128.6 218.0 L128.5 216.9 L128.8 214.9 L128.5 213.5 L128.0 211.4 L128.6 209.5 L129.0 207.7 L128.4 205.0 L129.1 203.4 L128.9 202.3 L129.4 199.9 L130.2 197.5 L129.9 196.8 L130.2 194.7 L130.7 192.3 L131.0 194.5 L131.4 195.7 L130.6 197.6 L131.6 200.0 L130.8 202.8 L132.0 204.2 L132.2 205.6 L131.8 208.1 L131.4 205.7 L131.8 203.6 L132.6 202.1 L132.2 200.6 L132.4 198.2 L132.3 196.0 L132.4 193.5 L132.3 192.8 L133.0 190.5 L133.0 188.3 L133.6 191.0 L133.7 192.0 L133.7 194.0 L133.5 197.1 L134.7 199.1 L134.3 200.2 L134.7 197.8 L134.5 196.9 L134.0 194.8 L135.2 192.6 L135.2 191.3 L134.6 189.8 L134.6 186.7 L135.3 185.2 L135.5 184.0 L135.6 181.9 L135.4 179.6 L135.5 177.8 L135.9 175.2 L136.2 173.4 L135.5 172.1 L135.5 169.6 L136.1 168.3 L135.5 165.8 L136.2 164.4 L135.8 162.4 L135.7 160.8 L136.3 158.6 L136.6 157.6 L136.5 155.1 L136.7 157.8 L137.1 158.6 L136.6 161.4 L137.6 162.5 L136.9 164.5 L137.5 166.2 L136.9 168.5 L137.5 170.1 L137.1 167.8 L137.8 166.0 L137.7 164.7 L138.5 163.3 L138.1 161.0 L138.6 159.0 L138.9 161.6 L139.1 163.3 L138.6 164.2 L138.5 165.8 L139.5 167.8 L139.3 169.2 L138.8 171.7 L139.4 173.3 L139.8 174.5 L139.3 176.2 L140.6 177.8 L140.4 179.4 L140.1 182.9 L140.2 184.8 L141.0 186.0 L141.4 188.2 L141.0 187.3 L142.3 188.8 L142.1 189.7 L142.4 189.7 L142.5 190.7 L143.4 191.1 L143.2 192.5 L143.7 195.4 L143.9 197.2 L143.5 197.4 L144.1 198.6 L144.2 197.2 L144.5 194.0 L145.3 192.3 L144.8 190.0 L144.6 189.2 L145.4 186.8 L145.2 188.7 L146.3 191.0 L146.4 191.8 L146.3 195.0 L145.7 197.0 L146.6 198.2 L146.5 200.2 L146.9 201.0 L147.3 198.7 L147.1 197.4 L147.9 195.9 L148.0 197.8 L148.1 196.3 L148.9 199.0 L148.7 199.5 L148.4 202.4 L149.5 203.1 L149.4 204.7 L149.7 206.6 L149.6 206.9 L150.5 206.4 L150.8 205.7 L150.8 203.4 L151.2 205.7 L151.3 206.9 L151.7 209.4 L151.1 210.5 L152.0 212.2 L151.6 213.7 L151.2 216.0 L151.4 218.9 L152.6 220.0 L152.3 221.4 L152.4 224.0 L152.5 222.1 L152.7 219.6 L153.2 218.1 L153.6 216.6 L152.9 214.5 L153.4 212.8 L153.6 210.4 L154.0 208.1 L154.5 209.6 L154.7 207.4 L154.5 206.9 L155.1 208.5 L154.9 208.9 L155.7 208.9 L155.6 211.3 L156.0 209.7 L155.7 208.7 L156.8 206.1 L157.1 204.5 L156.6 201.1 L156.6 198.9 L157.3 198.5 L157.2 196.8 L157.6 193.9 L157.8 194.6 L158.4 192.2 L158.0 192.6 L158.8 191.4 L158.8 189.2 L159.2 189.1 L159.1 186.4 L159.8 184.8 L159.5 183.7 L159.9 180.9 L160.0 180.1 L160.2 177.9 L160.8 176.5 L161.0 178.8 L161.7 179.3 L161.4 181.5 L162.2 183.8 L161.7 184.9 L162.4 186.9 L162.4 189.1 L163.2 186.7 L163.0 184.6 L163.1 182.7 L163.5 181.2 L164.3 180.1 L163.6 177.6 L163.9 176.4 L164.9 173.4 L164.7 172.5 L164.5 174.0 L164.6 175.8 L165.6 177.7 L165.3 178.8 L165.0 181.5 L165.5 182.5 L165.8 184.6 L166.0 186.8 L166.5 186.1 L166.0 188.0 L166.7 187.6 L166.4 190.3 L167.6 189.3 L166.9 192.2 L168.2 191.7 L167.9 192.3 L168.3 194.4 L168.3 195.7 L169.1 196.3 L169.3 197.1 L168.8 197.1 L169.5 197.8 L169.4 197.0 L169.9 194.5 L170.2 193.3 L170.3 191.1 L171.3 190.9 L171.1 189.1 L171.3 186.5 L170.8 185.4 L171.0 183.9 L171.7 181.7 L171.5 179.7 L172.0 177.5 L172.2 175.4 L172.1 173.5 L172.3 171.7 L172.6 168.8 L172.4 167.4 L173.2 166.2 L172.7 163.8 L172.8 161.7 L173.3 159.1 L173.5 156.8 L173.8 155.8 L173.8 154.3 L174.1 155.7 L174.7 157.3 L174.6 155.4 L175.0 155.3 L175.3 155.1 L176.0 157.7 L175.2 159.7 L175.7 161.2 L175.8 161.7 L176.6 163.8 L176.3 164.9 L177.5 167.0 L176.9 168.5 L177.8 167.7 L178.3 170.0 L178.2 170.9 L178.3 172.4 L178.4 172.0 L179.4 170.9 L179.0 168.3 L179.5 169.3 L179.9 170.9 L180.3 171.8 L179.6 173.6 L179.9 176.4 L180.6 178.0 L180.5 177.5 L181.0 177.2 L181.5 179.3 L181.5 181.3 L181.8 180.4 L181.5 182.7 L181.6 183.7 L182.4 186.2 L182.8 188.6 L182.6 191.1 L182.5 192.1 L183.0 193.9 L183.6 195.6 L184.0 198.0 L184.0 200.2 L183.4 201.9 L184.1 203.5 L184.5 205.0 L185.4 205.9 L185.4 206.4 L185.4 208.8 L185.1 210.4 L186.2 210.7 L186.1 212.9 L185.8 211.6 L186.5 209.1 L186.9 208.9 L187.3 209.8 L187.3 212.0 L188.1 214.7 L188.0 217.1 L187.7 218.2 L188.5 220.8 L189.2 220.9 L188.9 221.7 L189.0 224.6 L189.8 224.9 L189.7 224.9 L190.1 227.2 L190.1 225.2 L190.3 223.7 L190.8 222.5 L191.1 219.7 L190.8 217.1 L190.9 216.1 L190.9 214.1 L191.8 212.3 L191.8 210.6 L191.5 211.3 L192.4 208.9 L192.5 208.1 L192.9 207.0 L192.7 206.7 L193.3 205.0 L193.8 205.9 L193.3 206.3 L193.8 208.9 L193.9 208.7 L194.6 211.2 L194.8 212.1 L195.0 211.3 L194.9 208.7 L195.1 206.9 L196.2 205.8 L196.5 205.2 L196.4 203.4 L196.3 201.9 L196.7 199.9 L197.0 198.3 L197.4 195.6 L197.1 194.7 L197.0 193.0 L197.5 190.0 L198.0 188.3 L198.8 188.1 L198.3 187.2 L198.6 186.7 L199.5 184.4 L199.3 183.6 L199.3 185.7 L199.3 187.8 L199.7 189.3 L199.9 191.5 L200.4 192.9 L200.9 194.7 L200.8 193.0 L201.4 190.6 L201.9 188.4 L201.0 186.5 L202.2 184.7 L201.4 183.2 L202.0 182.0 L202.8 182.5 L202.4 185.6 L202.5 187.8 L203.1 189.1 L203.4 186.6 L203.8 184.9 L204.1 183.9 L204.2 181.0 L204.4 180.3 L203.7 177.3 L203.7 175.1 L204.4 174.1 L204.1 176.3 L204.2 178.1 L205.0 179.9 L205.3 180.8 L205.3 183.4 L205.2 184.8 L205.5 186.0 L205.0 188.1 L205.6 190.1 L205.5 192.3 L205.7 195.0 L205.8 197.0 L206.3 197.3 L206.1 199.6 L206.7 201.8 L206.7 201.7 L207.5 202.6 L207.9 204.5 L208.1 205.3 L208.4 203.0 L208.3 205.0 L208.0 206.8 L208.8 206.6 L208.8 208.7 L209.4 209.4 L209.2 211.1 L209.9 212.9 L209.6 213.7 L210.8 215.0 L210.7 217.4 L210.8 217.8 L211.2 220.0 L211.8 217.6 L212.0 217.5 L211.7 216.3 L212.0 214.6 L211.9 214.2 L212.6 212.1 L212.3 211.1 L212.8 208.0 L213.4 207.1 L214.1 204.5 L213.9 202.6 L214.1 200.2 L214.6 198.7 L214.7 197.3 L214.6 194.7 L215.4 192.3 L215.5 191.2 L215.4 189.1 L215.6 187.3 L216.0 187.7 L216.1 185.4 L216.1 186.0 L216.7 184.4 L217.2 185.7 L216.8 188.3 L217.9 189.0 L217.8 191.5 L217.8 189.0 L217.8 187.6 L218.0 185.5 L218.9 184.8 L219.4 181.7 L218.9 179.3 L219.6 179.0 L219.4 176.5 L219.7 178.8 L219.8 179.3 L220.5 180.2 L221.0 182.2 L220.4 184.1 L221.0 186.0 L221.3 187.9 L221.6 189.5 L221.7 190.1 L221.8 192.0 L222.3 193.9 L222.5 193.7 L223.1 192.3 L222.7 190.6 L223.7 190.2 L223.7 189.4 L223.7 187.5 L224.1 186.6 L224.1 184.4 L224.5 181.9 L224.5 179.4 L225.1 178.8 L224.8 177.0 L225.3 174.9 L225.4 173.1 L225.6 171.5 L226.4 170.0 L226.3 167.3 L226.2 166.3 L227.1 164.3 L226.8 161.6 L226.9 160.6 L227.2 157.9 L227.4 162.6 L227.7 158.7 L227.9 160.5 L228.2 160.7 L228.4 160.6 L228.6 163.3 L228.4 164.8 L229.0 166.2 L229.1 168.5 L229.7 170.9 L230.3 168.8 L229.9 168.6 L230.5 168.5 L230.8 170.1 L231.1 171.1 L230.9 173.7 L231.6 175.7 L231.2 177.5 L231.6 180.6 L231.4 181.7 L232.3 183.7 L232.1 186.0 L232.7 183.8 L232.8 183.8 L233.0 182.1 L233.7 180.2 L233.6 178.8 L233.7 178.0 L234.2 179.1 L234.0 177.4 L234.1 177.1 L234.5 178.3 L234.9 176.5 L235.4 178.5 L235.6 177.6 L236.0 177.9 L235.6 177.3 L236.4 178.1 L236.3 179.0 L236.4 180.1 L236.8 181.2 L236.9 181.2 L237.7 182.6 L237.9 178.9 L238.2 181.1 L238.5 178.3 L238.4 178.8 L238.0 176.9 L239.4 174.2 L238.8 173.1 L238.9 170.4 L239.5 169.3 L239.4 170.1 L240.4 171.8 L239.9 174.8 L240.1 175.2 L240.8 177.2 L240.7 179.3 L240.9 181.6 L241.2 183.9 L241.6 184.8 L241.8 187.1 L242.4 189.1 L242.2 190.9 L243.2 192.8 L243.6 194.1 L244.0 196.3 L244.2 198.2 L244.0 200.2 L244.3 201.7 L244.1 203.5 L244.4 204.0 L245.0 206.2 L244.9 208.4 L245.6 209.7 L245.9 210.2 L246.6 212.4 L246.2 212.9 L246.5 211.8 L246.4 214.0 L247.1 214.5 L247.8 213.8 L247.6 213.5 L247.4 214.6 L248.3 214.4 L248.8 212.5 L248.7 212.1 L249.0 213.5 L248.9 215.6 L249.6 216.7 L249.7 218.7 L250.0 220.8 L250.0 219.6 L250.3 218.1 L250.4 215.8 L251.4 214.0 L251.1 212.1 L251.0 214.0 L251.8 214.7 L251.8 215.9 L251.8 218.1 L252.2 218.4 L252.7 220.8 L253.0 220.8 L253.0 218.0 L253.1 216.5 L253.9 218.4 L254.4 217.7 L254.3 216.1 L254.7 215.9 L254.9 214.2 L255.1 212.9 L254.9 211.5 L255.5 209.7 L255.8 212.0 L256.4 213.9 L256.7 214.7 L255.9 217.4 L256.7 219.2 L256.4 221.4 L257.0 222.4 L257.1 223.1 L257.5 221.2 L257.7 220.6 L258.2 222.9 L258.3 219.4 L258.3 217.8 L258.8 222.6 L259.0 221.6 L259.2 222.2 L259.4 219.0 L260.3 219.4 L260.0 219.9 L260.3 217.7 L259.9 215.9 L260.2 214.2 L260.1 211.5 L260.8 210.2 L261.2 207.2 L261.8 205.4 L261.9 203.5 L261.1 201.5 L261.9 200.7 L262.4 202.6 L262.6 204.8 L262.1 205.6 L262.1 208.3 L263.2 210.4 L262.9 211.8 L262.9 213.2 L263.0 213.3 L263.2 213.0 L264.0 214.2 L263.7 213.4 L264.7 211.1 L264.3 211.6 L265.1 210.2 L265.1 210.1 L265.2 209.4 L266.2 210.3 L266.0 210.8 L266.3 211.8 L266.8 209.8 L267.2 207.4 L267.3 205.8 L267.3 204.5 L268.0 202.4 L267.9 200.7 L268.5 201.3 L268.2 199.6 L269.2 197.4 L269.3 198.0 L269.2 196.8 L269.6 195.3 L270.1 195.6 L269.8 193.7 L270.3 192.0 L270.1 193.8 L270.5 195.3 L270.5 197.4 L271.4 199.6 L271.4 200.7 L271.4 198.7 L272.0 198.6 L272.6 199.3 L272.8 196.6 L272.7 196.8 L272.5 199.3 L273.4 201.1 L273.1 203.8 L273.2 205.7 L273.9 207.1 L274.6 207.9 L274.1 209.4 L274.4 209.6 L275.2 212.1 L274.9 212.9 L275.4 213.4 L275.3 212.6 L276.2 211.2 L276.1 211.6 L276.7 209.3 L276.3 209.8 L277.3 209.1 L277.1 207.8 L277.4 206.7 L277.7 204.1 L277.5 201.3 L278.4 199.2 L278.5 197.5 L278.7 196.0 L278.9 196.6 L279.8 196.9 L279.6 200.1 L279.6 199.5 L280.4 201.7 L280.3 202.3 L280.7 203.3 L281.3 203.1 L280.6 202.0 L281.4 204.9 L281.9 204.7 L281.9 204.7 L282.2 206.4 L282.1 207.9 L282.1 208.6 L283.4 207.4 L283.5 207.6 L283.8 207.8 L283.1 210.1 L283.8 211.0 L283.5 212.1 L284.8 214.1 L284.6 214.8 L284.2 214.8 L285.0 216.6 L285.2 217.9 L285.0 220.7 L286.0 222.9 L286.1 224.5 L286.8 225.5 L286.1 227.9 L287.4 227.2 L287.3 227.9 L287.0 230.7 L287.7 230.8 L288.4 232.8 L288.1 233.6 L288.1 233.4 L289.1 229.8 L288.7 233.2 L289.3 232.4 L289.3 230.8 L290.2 228.8 L289.9 225.7 L290.4 224.5 L290.1 222.0 L290.4 220.6 L290.5 218.5 L290.6 217.3 L291.0 215.8 L292.0 213.0 L291.7 211.8 L291.4 212.2 L291.8 215.0 L292.5 214.9 L292.2 215.8 L293.0 218.1 L293.4 217.9 L293.3 216.5 L293.7 216.7 L293.6 215.5 L293.7 213.4 L294.5 213.4 L294.7 214.7 L294.5 214.6 L295.3 215.3 L295.7 215.9 L295.7 218.1 L295.6 216.6 L296.0 213.9 L296.6 212.1 L296.8 209.9 L296.9 207.8 L296.2 206.8 L296.4 204.9 L296.4 202.7 L297.5 200.9 L297.6 200.1 L297.2 197.5 L297.7 198.8 L298.1 201.7 L298.0 203.6 L298.6 205.9 L298.4 207.6 L298.4 208.6 L298.1 207.1 L298.9 208.7 L299.1 206.3 L299.1 207.9 L299.6 206.3 L300.2 208.4 L299.6 209.5 L300.4 212.0 L300.7 212.9 L300.4 215.4 L300.9 216.8 L300.5 219.1 L300.8 221.4 L301.6 222.3 L301.2 224.5 L301.3 223.0 L301.1 221.3 L301.7 219.7 L302.5 218.0 L301.7 215.4 L302.5 213.4 L302.7 214.4 L302.7 213.9 L303.6 211.4 L303.1 210.5 L303.8 210.2 L303.9 210.2 L304.1 211.0 L304.4 213.6 L304.4 215.0 L304.5 218.2 L305.2 219.7 L305.2 221.3 L305.4 223.1 L305.6 224.3 L306.3 227.7 L306.5 229.2 L306.8 230.8 L306.5 229.0 L307.0 227.9 L307.0 224.7 L308.1 222.7 L308.0 221.3 L308.7 219.0 L308.9 222.0 L308.7 220.6 L309.1 222.9 L309.4 220.9 L309.1 219.4 L310.1 218.1 L309.7 214.6 L310.4 213.4 L310.5 211.4 L310.2 209.4 L310.4 207.7 L311.4 206.4 L311.2 203.9 L310.8 202.9 L311.9 201.6 L311.5 199.1 L311.5 197.1 L311.8 195.7 L312.4 193.2 L311.9 191.6 L312.0 188.9 L312.9 187.1 L313.0 185.8 L312.6 183.3 L313.1 185.5 L313.1 181.2 L313.7 185.0 L313.6 182.5 L313.8 184.3 L313.9 186.6 L314.4 188.5 L313.9 190.3 L314.4 191.6 L313.7 194.9 L314.0 197.2 L313.8 199.1 L314.9 201.1 L314.4 202.3 L314.8 204.6 L314.8 206.4 L314.1 208.1 L315.0 210.0 L314.8 211.8 L315.1 214.2 L314.7 215.3 L314.9 216.7 L315.0 219.7 L315.2 220.8 L315.2 222.9 L315.0 221.0 L315.1 218.5 L315.6 216.8 L315.6 214.9 L316.2 212.7 L316.3 211.8 L316.4 213.8 L316.7 215.3 L316.9 216.0 L317.4 218.1 L317.7 217.0 L317.8 216.7 L317.8 215.2 L318.4 214.1 L318.6 214.2 L318.7 215.5 L319.2 216.6 L319.6 219.8 L319.5 221.4 L319.7 222.9 L320.4 220.7 L320.4 218.5 L319.7 216.2 L320.3 215.4 L320.4 212.4 L321.0 210.8 L320.5 208.3 L321.0 207.1 L321.4 205.7 L321.0 202.8 L321.6 200.9 L321.9 199.4 L321.6 197.9 L322.0 196.0 L321.8 194.1 L322.2 192.2 L322.1 189.6 L322.7 192.3 L323.1 194.1 L322.6 195.8 L322.3 197.1 L323.1 198.9 L322.8 201.1 L323.4 202.3 L323.5 201.0 L323.9 198.8 L323.9 197.5 L324.5 195.3 L324.7 193.6 L325.2 193.7 L324.9 195.8 L325.6 195.6 L325.8 196.0 L325.8 193.6 L326.4 191.5 L326.1 190.4 L326.9 188.8 L326.9 187.6 L327.8 185.8 L327.2 184.0 L327.8 180.9 L327.4 182.9 L328.5 183.9 L328.1 186.3 L327.8 188.9 L327.6 190.4 L328.3 192.1 L328.6 194.1 L328.4 195.5 L328.6 197.5 L329.4 196.0 L329.2 195.5 L329.3 193.0 L329.7 192.8 L329.8 194.4 L329.5 196.8 L330.1 199.5 L330.1 200.8 L330.6 203.5 L330.1 205.0 L330.9 206.2 L330.8 208.6 L330.7 210.9 L331.8 211.4 L331.4 213.5 L331.3 214.9 L332.1 215.0 L332.4 217.7 L332.7 218.3 L332.6 220.4 L333.1 221.7 L332.8 224.1 L332.5 225.7 L333.2 227.7 L334.0 229.1 L333.4 230.1 L333.8 231.0 L334.5 231.4 L334.5 234.0 L334.6 236.3 L335.3 238.4 L335.1 240.0 L335.1 242.1 L335.1 243.6 L334.8 245.9 L335.6 248.0 L335.9 249.3 L336.1 252.1 L336.1 253.3 L335.8 255.8 L335.5 257.5 L335.7 259.6 L336.7 260.5 L336.5 263.3 L336.5 265.3 L336.8 266.3 L336.6 268.5 L337.4 266.0 L337.0 265.2 L337.3 263.6 L337.7 262.2 L337.3 263.5 L337.2 266.0 L337.7 267.9 L338.4 269.6 L337.5 272.4 L337.5 273.8 L338.2 276.2 L337.5 278.0 L337.5 279.8 L338.2 281.3 L338.5 283.8 L337.7 285.4 L338.2 287.5 L337.9 289.3 L338.7 290.7 L338.8 292.6 L338.7 295.4 L339.0 296.9 L338.7 298.6 L339.2 300.2 L338.3 301.6 L339.1 303.6 L339.1 305.2 L339.4 307.1 L339.1 309.5 L339.0 311.3 L338.8 312.7 L339.5 314.4 L339.7 317.4 L339.0 319.0 L339.9 321.4 L339.3 322.8 L339.1 324.6 L339.2 326.3 L339.8 328.7 L339.9 329.2 L339.3 330.0 L339.8 331.7 L339.7 333.9 L339.3 336.1 L339.8 337.3 L339.8 339.3 L340.0 341.5 L339.5 343.0 L339.3 344.4 L339.5 346.2 L339.9 348.3 L340.2 350.0 L339.3 351.5 L339.8 353.8 L339.6 355.3 L339.8 356.8 L339.9 359.0 L340.4 360.8 L340.3 362.7 L339.7 364.3 L340.1 366.3 L339.7 369.0 L339.6 371.1 L340.3 372.0 L339.9 373.4 L340.1 376.0 L340.2 377.9 L339.9 379.6 L340.3 381.8 L340.2 384.0 L340.3 385.6 L339.4 386.7 L339.9 389.0 L339.7 391.2 L340.5 392.4 L340.3 394.3 L340.1 396.4 L340.2 398.1 L340.4 400.8 L340.0 403.2 L340.4 405.2 L340.1 406.7 L340.5 400.4 L340.5 394.0 L341.1 387.9 L341.1 381.3 L341.6 375.1 L341.6 381.8 L341.9 388.1 L341.7 394.6 L341.7 401.2 L342.0 408.0 L342.5 410.0 L342.2 412.0 L341.7 414.0 L342.6 415.2 L342.2 417.8 L341.9 419.8 L341.8 421.5 L342.2 423.1 L342.0 424.1 L342.2 426.2 L342.7 428.8 L342.8 430.7 L342.3 432.0 L342.8 430.6 L342.6 427.8 L342.8 426.8 L342.5 424.4 L342.7 421.5 L342.7 419.8 L342.7 417.8 L343.5 416.5 L343.4 414.3 L343.2 412.0 L343.6 410.4 L343.7 409.3 L344.5 406.6 L344.2 404.2 L344.7 402.5 L344.8 401.0 L344.6 399.1 L344.4 400.5 L344.7 402.8 L344.3 405.0 L344.9 406.1 L345.1 408.1 L345.0 409.6 L344.5 411.5 L345.2 413.7 L344.8 415.5 L345.2 417.4 L345.4 418.9 L344.5 421.9 L344.6 422.9 L344.8 425.7 L344.9 427.0 L344.9 428.5 L345.3 430.6 L345.6 432.7 L344.8 435.2 L344.5 436.9 L345.3 438.8 L345.5 440.1 L344.8 441.5 L345.4 444.4 L345.0 445.7 L344.7 448.4 L345.2 449.9 L345.1 456.0 L345.2 462.6 L345.5 468.7 L345.5 475.1 L345.4 481.2 L345.5 487.5 L345.4 494.3 L345.7 501.1 L345.4 508.1 L345.4 515.1 L345.3 522.1 L345.5 528.7 L345.6 522.7 L345.7 516.4 L345.7 510.5 L345.9 504.5 L346.4 498.4 L346.3 492.3 L346.2 485.9 L346.4 479.8 L346.5 473.8 L347.0 467.7 L346.9 461.5 L347.1 455.1 L347.4 461.5 L347.8 468.1 L348.1 474.4 L348.2 481.1 L348.7 487.5 L349.2 494.6 L349.4 501.1 L349.7 508.0 L350.2 514.6 L350.3 521.6 L350.3 519.4 L351.0 518.6 L351.1 516.9 L350.8 515.3 L350.2 513.2 L351.0 511.2 L351.0 508.7 L351.0 507.7 L350.9 505.6 L351.2 503.4 L351.7 501.3 L351.0 498.7 L351.4 497.5 L351.7 494.8 L351.7 493.1 L351.8 491.2 L351.7 489.5 L351.9 487.5 L351.6 484.9 L352.2 484.0 L352.6 481.1 L351.8 479.0 L352.1 477.5 L352.6 475.6 L352.7 473.2 L352.7 471.7 L352.9 468.9 L352.5 467.6 L352.6 465.5 L353.7 463.6 L353.6 461.8 L353.1 460.2 L353.9 458.8 L353.8 455.8 L354.2 453.5 L353.5 451.6 L354.0 450.5 L353.6 448.5 L353.5 446.5 L353.9 443.7 L354.3 441.2 L354.2 440.0 L353.8 437.6 L353.9 436.8 L354.0 435.7 L353.7 433.3 L353.8 432.0 L354.2 430.2 L354.1 427.2 L354.1 425.2 L354.2 423.7 L353.7 421.1 L354.5 419.9 L353.4 418.1 L353.5 416.0 L354.4 414.0 L354.5 411.4 L353.8 410.0 L354.1 408.0 L354.1 405.6 L354.3 404.5 L353.7 401.7 L354.6 399.5 L354.4 397.6 L354.6 395.8 L354.0 394.0 L354.5 392.9 L354.9 390.9 L354.0 389.3 L354.2 386.6 L355.1 384.7 L354.7 382.7 L354.3 381.4 L355.4 378.7 L355.0 377.4 L354.9 375.4 L355.3 374.2 L355.7 372.6 L355.7 370.0 L355.5 367.7 L356.2 365.7 L355.2 364.2 L355.5 361.9 L355.8 360.2 L355.7 358.5 L355.6 356.5 L355.9 354.1 L355.2 352.6 L356.4 351.0 L355.5 348.7 L355.7 347.6 L356.0 345.4 L356.1 343.5 L356.6 342.0 L356.1 340.3 L356.7 342.9 L355.9 344.5 L356.0 346.8 L356.2 348.5 L356.7 349.9 L356.1 352.4 L356.4 354.7 L356.4 355.8 L356.7 358.1 L357.0 360.1 L356.9 361.7 L357.1 363.7 L357.2 364.8 L356.5 366.9 L357.4 369.0 L357.6 370.6 L357.8 372.6 L357.0 374.0 L357.5 376.4 L357.8 378.6 L358.1 379.9 L357.7 382.3 L358.0 388.9 L358.0 395.8 L358.3 402.7 L358.4 409.5 L358.8 415.8 L358.8 422.7 L359.5 420.8 L359.3 418.7 L359.5 416.9 L359.1 414.4 L359.0 413.6 L358.7 411.1 L359.1 408.9 L359.1 407.7 L359.2 405.5 L360.1 403.9 L359.4 402.1 L360.4 400.5 L359.9 398.1 L359.5 396.5 L360.5 394.9 L359.7 392.3 L360.2 390.0 L360.4 389.0 L360.0 387.4 L360.7 384.8 L360.3 383.1 L360.3 381.3 L360.5 378.5 L360.8 376.4 L360.7 374.8 L360.5 373.4 L360.3 371.4 L360.9 369.6 L361.0 363.7 L360.9 357.8 L361.3 351.5 L361.1 345.3 L361.2 339.1 L361.5 333.2 L362.1 335.4 L361.7 337.6 L361.6 339.3 L361.6 341.1 L362.1 343.1 L362.3 345.3 L361.7 347.3 L362.3 349.3 L361.6 351.3 L362.5 352.8 L361.8 354.7 L363.0 356.0 L362.5 358.5 L362.8 356.5 L362.6 355.3 L362.6 354.0 L362.6 351.9 L362.8 348.8 L363.4 346.7 L363.6 345.8 L364.1 347.5 L364.0 350.2 L364.3 351.1 L363.5 353.6 L364.7 354.7 L364.6 357.4 L364.4 359.8 L364.7 361.3 L364.6 363.4 L364.2 364.6 L364.8 366.5 L365.1 364.0 L365.1 361.8 L365.4 360.3 L365.1 357.9 L365.6 356.4 L365.3 355.3 L364.9 352.6 L365.2 350.4 L365.0 348.4 L365.6 347.2 L366.1 344.8 L365.6 342.6 L365.6 341.1 L366.2 339.1 L365.9 341.3 L366.6 341.8 L366.4 339.2 L366.8 339.5 L367.4 337.5 L367.3 335.1 L367.2 333.8 L367.8 332.1 L367.5 330.0 L368.0 327.9 L367.8 326.1 L367.1 325.0 L368.1 323.4 L366.9 320.9 L367.5 319.2 L368.2 316.6 L368.2 314.3 L368.1 312.5 L367.5 310.4 L367.5 309.3 L368.6 307.1 L368.7 305.7 L368.3 303.4 L367.8 302.4 L368.8 299.6 L368.0 298.1 L368.3 296.1 L368.2 294.1 L369.4 291.7 L369.3 290.1 L369.0 288.0 L369.0 286.1 L369.4 284.4 L369.5 282.5 L368.9 281.2 L369.4 279.6 L369.5 277.3 L369.5 276.2 L370.3 273.4 L370.2 272.3 L369.6 269.5 L369.6 267.3 L370.3 264.9 L370.4 263.8 L370.6 261.6 L370.0 259.9 L370.9 258.6 L370.9 256.8 L371.5 255.2 L371.3 253.8 L370.9 251.3 L371.2 249.5 L370.7 251.3 L371.5 253.0 L371.8 254.8 L372.1 257.6 L371.0 259.1 L371.5 260.3 L372.0 262.2 L372.2 263.8 L371.5 266.5 L372.4 268.7 L372.1 270.3 L372.0 271.7 L372.0 274.0 L371.6 275.3 L372.0 276.5 L372.4 279.5 L371.9 281.3 L372.4 282.6 L372.8 285.1 L372.9 287.1 L372.8 288.7 L373.2 290.7 L373.1 292.3 L373.3 298.5 L373.6 304.3 L373.7 310.3 L374.1 316.5 L374.4 322.6 L374.7 328.7 L374.3 326.4 L374.9 325.4 L375.0 323.2 L374.7 321.6 L375.5 318.9 L375.3 317.1 L375.7 315.9 L374.7 314.2 L375.8 311.6 L375.0 310.2 L375.2 307.4 L375.4 305.2 L375.7 304.2 L375.2 302.1 L375.8 300.2 L376.5 298.2 L375.9 296.6 L376.3 294.6 L375.6 293.0 L375.9 291.1 L375.8 288.9 L376.0 286.7 L375.7 284.8 L376.4 282.6 L376.0 280.4 L376.2 279.4 L376.2 277.2 L376.1 275.9 L377.1 273.9 L376.7 271.7 L376.9 270.2 L377.4 270.8 L377.0 268.9 L377.8 268.5 L377.8 266.5 L377.8 265.1 L378.4 262.9 L378.2 261.6 L378.6 259.2 L378.6 257.4 L379.1 259.9 L378.5 262.1 L378.7 263.1 L379.5 264.6 L379.2 267.1 L379.2 268.8 L379.0 271.2 L379.3 271.8 L379.5 274.0 L379.7 276.6 L379.7 278.0 L379.4 279.9 L380.0 281.5 L379.7 283.4 L379.9 285.5 L380.9 286.8 L380.4 289.0 L380.3 291.1 L380.7 292.3 L381.1 293.7 L380.5 295.2 L381.4 296.9 L381.0 299.8 L380.9 300.8 L381.2 303.4 L381.1 304.5 L381.3 306.6 L381.1 309.5 L382.0 311.4 L381.6 312.4 L381.1 313.5 L381.8 316.1 L381.6 313.6 L381.7 311.8 L382.1 310.8 L382.0 308.6 L381.9 305.9 L382.6 305.0 L382.0 303.4 L381.8 300.6 L382.3 298.9 L382.5 297.0 L382.4 295.2 L382.3 293.7 L382.8 292.1 L382.6 289.0 L382.9 287.5 L383.0 285.7 L383.0 284.1 L383.7 281.9 L383.8 280.1 L383.7 278.8 L383.8 281.3 L383.6 283.0 L383.8 284.9 L384.6 286.2 L384.7 289.1 L385.4 290.9 L385.6 293.4 L385.6 295.0 L385.4 297.4 L385.6 299.2 L385.8 300.2 L386.1 298.8 L385.6 296.3 L385.6 295.0 L385.7 293.5 L385.7 290.4 L386.8 289.3 L386.5 287.1 L386.9 284.9 L386.0 283.5 L386.8 280.9 L386.6 279.6 L387.2 276.7 L386.6 275.0 L386.8 273.6 L386.8 271.8 L387.1 270.4 L387.1 268.5 L388.2 266.6 L387.8 263.8 L387.5 261.8 L388.5 259.6 L388.7 257.2 L388.9 255.8 L389.0 253.1 L389.0 252.1 L388.7 250.4 L388.8 248.8 L390.0 247.2 L389.5 245.3 L389.4 242.4 L389.7 241.0 L389.3 239.5 L390.3 237.0 L390.0 235.1 L389.7 232.4 L390.7 230.6 L390.3 229.2 L390.9 231.5 L391.3 233.9 L390.5 235.5 L390.7 236.7 L391.5 238.7 L391.3 238.5 L392.0 237.3 L392.5 236.3 L392.8 235.5 L392.8 236.4 L393.5 237.4 L393.7 239.7 L393.1 241.7 L393.7 243.6 L393.9 245.1 L394.1 242.4 L394.4 240.3 L394.4 238.3 L394.3 236.6 L394.2 235.3 L395.3 232.7 L395.3 230.8 L395.0 229.2 L395.1 227.7 L394.8 224.8 L395.0 223.8 L395.7 221.5 L395.8 218.7 L396.0 216.6 L396.0 215.1 L396.3 213.4 L396.4 210.8 L396.4 208.7 L397.5 207.0 L397.8 205.6 L397.6 203.9 L398.4 201.7 L398.5 202.3 L398.6 202.3 L398.7 201.5 L398.6 203.1 L399.4 204.8 L399.5 206.6 L399.8 209.4 L399.8 211.8 L399.5 210.5 L399.9 208.4 L400.7 206.6 L400.1 204.8 L400.9 202.2 L401.0 200.7 L401.7 203.4 L401.1 205.1 L401.6 207.3 L401.6 209.4 L402.3 211.5 L402.0 213.6 L402.5 214.7 L402.2 216.6 L402.2 216.0 L403.0 217.4 L403.3 216.7 L403.4 216.0 L403.4 218.1 L402.9 219.6 L403.2 222.5 L403.7 223.8 L403.3 226.0 L403.7 227.9 L403.8 228.9 L403.7 231.5 L403.9 232.4 L404.6 234.3 L404.1 237.2 L404.8 239.0 L404.5 240.3 L405.2 239.3 L405.1 237.7 L405.3 235.9 L405.1 233.6 L405.7 232.2 L405.2 230.5 L405.7 229.0 L405.8 226.1 L406.5 228.6 L406.0 229.7 L406.2 228.4 L407.2 228.3 L407.4 229.5 L407.4 230.8 L408.1 229.0 L408.1 227.5 L408.4 225.3 L408.5 224.1 L408.9 222.8 L408.3 220.0 L409.0 218.1 L409.7 217.3 L409.6 215.2 L410.1 214.9 L410.1 211.9 L409.9 210.0 L410.6 210.2 L410.7 210.0 L411.0 209.4 L411.0 207.8 L411.9 207.3 L411.8 207.1 L411.7 205.3 L411.8 202.6 L412.2 201.5 L412.7 199.8 L412.5 197.5 L412.4 199.0 L412.3 200.6 L413.1 202.7 L413.1 205.9 L412.6 207.2 L412.7 209.5 L413.3 211.3 L413.4 213.4 L413.6 216.1 L414.2 218.3 L414.5 220.0 L414.9 221.3 L414.5 222.9 L414.0 224.5 L414.3 226.7 L414.9 228.4 L414.7 230.1 L414.8 233.1 L414.4 234.7 L414.7 237.3 L415.0 238.7 L414.9 240.1 L414.5 242.2 L414.8 244.0 L415.2 246.2 L414.8 248.0 L415.1 250.3 L414.5 251.6 L414.7 252.9 L415.0 255.4 L414.8 257.1 L415.1 259.0 L414.9 261.4 L415.7 263.3 L415.7 264.5 L414.8 267.1 L415.2 268.0 L415.9 270.2 L415.1 272.0 L415.7 274.1 L415.8 276.3 L415.6 277.9 L415.6 279.6 L415.9 278.6 L416.0 276.7 L416.4 274.2 L416.2 272.6 L415.6 270.2 L416.5 268.7 L416.0 267.2 L416.3 264.5 L416.0 263.6 L416.1 261.8 L416.0 259.3 L416.5 257.3 L416.7 255.8 L416.3 258.5 L417.2 259.4 L417.5 262.4 L417.3 263.6 L417.7 265.0 L417.7 267.3 L417.9 270.3 L417.8 271.7 L418.4 269.5 L418.4 267.6 L418.5 265.9 L417.8 263.5 L418.3 262.1 L418.7 260.0 L418.3 258.2 L418.7 255.8 L418.3 257.7 L419.2 259.6 L419.3 261.7 L419.7 263.9 L419.2 266.0 L418.8 267.3 L419.8 268.8 L419.5 270.3 L419.5 273.2 L419.8 274.9 L419.5 276.8 L420.2 278.1 L419.5 280.7 L419.9 282.8 L420.4 285.0 L420.1 287.3 L420.6 288.3 L420.7 290.7 L420.2 291.9 L420.7 294.1 L420.3 296.3 L421.1 297.5 L421.1 299.1 L421.1 301.8 L421.7 300.9 L421.7 301.2 L422.0 300.0 L422.5 299.0 L422.8 300.1 L422.7 298.6 L423.1 296.1 L423.0 294.8 L423.6 293.3 L423.7 291.2 L423.9 288.9 L423.9 286.0 L423.8 284.4 L424.2 282.5 L423.8 279.7 L424.6 278.0 L424.3 280.0 L425.1 281.6 L425.4 283.3 L424.4 286.0 L425.3 288.3 L425.7 290.2 L425.5 292.3 L425.2 293.1 L425.8 294.8 L425.7 296.6 L425.3 299.3 L425.4 300.7 L425.9 303.4 L426.3 304.5 L426.3 307.2 L426.2 309.0 L426.0 310.7 L426.1 312.5 L426.5 315.4 L426.4 316.4 L426.8 318.0 L427.5 320.5 L426.8 323.0 L427.3 325.0 L427.2 326.8 L427.4 328.7 L428.0 326.4 L428.0 325.6 L427.6 323.9 L427.4 322.0 L427.6 319.3 L428.4 317.1 L428.3 315.5 L428.1 313.0 L428.6 311.3 L428.4 309.3 L429.1 307.1 L428.8 305.7 L429.2 303.5 L428.7 301.5 L429.3 300.2 L429.5 299.2 L429.8 297.6 L429.6 295.4 L429.1 292.5 L430.0 290.3 L429.8 289.4 L429.7 287.5 L430.1 288.2 L430.0 289.2 L430.6 292.1 L431.0 291.8 L430.9 293.9 L431.6 291.6 L431.3 290.6 L431.1 287.7 L432.1 285.7 L432.6 284.4 L432.2 282.8 L432.7 281.5 L432.8 279.2 L432.1 276.5 L432.6 275.1 L432.5 272.8 L433.3 270.5 L433.5 269.6 L433.0 268.4 L433.1 266.3 L433.3 263.8 L433.8 262.6 L433.0 259.5 L433.8 257.4 L433.2 255.6 L434.3 254.5 L433.5 252.2 L434.2 250.8 L434.1 247.7 L434.4 246.3 L435.1 246.0 L435.1 245.1 L434.9 243.3 L435.3 244.8 L435.7 243.2 L435.8 244.6 L436.4 246.2 L436.1 248.7 L436.2 251.1 L437.1 252.8 L437.3 255.1 L437.1 256.8 L436.9 259.0 L437.3 260.6 L437.7 258.4 L437.7 257.1 L438.4 254.5 L437.6 253.1 L438.9 250.9 L438.5 249.5 L438.6 247.4 L439.4 247.4 L439.5 246.0 L439.0 243.2 L440.1 243.8 L440.0 241.6 L439.5 239.1 L440.6 237.1 L440.3 235.1 L440.2 234.1 L439.8 232.4 L440.1 229.7 L439.7 227.5 L440.0 226.4 L440.9 225.3 L441.2 222.3 L441.0 220.0 L441.6 218.0 L441.4 217.1 L442.1 217.2 L442.3 214.4 L442.6 214.6 L442.5 213.9 L442.9 212.3 L443.4 211.0 L442.8 208.1 L443.6 207.5 L443.6 205.7 L443.5 204.0 L443.7 203.1 L444.5 201.2 L444.3 203.8 L445.4 205.0 L445.4 207.0 L445.8 208.5 L445.4 211.3 L445.7 212.3 L446.3 214.1 L445.6 216.4 L446.6 218.4 L446.6 219.5 L446.9 221.8 L446.1 223.6 L446.8 225.0 L446.3 223.5 L446.5 220.6 L447.2 219.3 L447.1 217.3 L447.4 215.2 L447.9 213.6 L447.9 211.8 L448.0 210.2 L447.7 207.5 L448.4 210.1 L447.6 212.0 L447.7 213.5 L447.7 215.0 L448.1 217.2 L448.8 218.9 L448.9 221.0 L448.8 223.4 L448.9 220.7 L449.3 220.4 L449.6 218.9 L450.0 217.1 L449.3 215.0 L449.6 212.3 L449.9 210.7 L449.7 207.9 L450.7 207.2 L450.6 204.6 L450.9 203.2 L450.6 201.4 L451.0 198.4 L450.9 196.4 L450.9 194.9 L451.1 192.7 L450.9 191.9 L451.6 189.6 L452.2 187.7 L452.3 185.6 L452.0 183.8 L451.5 185.9 L452.5 187.0 L451.7 188.9 L452.6 190.3 L451.7 193.1 L452.5 194.4 L452.2 196.9 L452.2 199.0 L452.9 200.2 L452.4 201.5 L453.0 203.5 L452.8 206.0 L453.1 204.8 L453.3 202.8 L453.5 200.9 L452.9 198.5 L453.0 196.2 L453.3 194.7 L453.9 192.7 L454.1 191.7 L454.5 190.5 L454.7 187.9 L454.1 185.6 L454.6 183.9 L454.8 182.8 L454.6 181.2 L455.2 179.0 L455.3 178.0 L455.2 176.0 L455.7 174.0 L456.3 171.1 L456.2 173.5 L457.0 173.1 L457.4 170.9 L457.6 173.9 L457.5 173.5 L457.7 175.8 L458.4 177.4 L458.8 178.1 L458.7 181.3 L458.8 182.2 L458.9 184.6 L459.7 185.5 L458.9 186.8 L459.0 188.7 L459.5 190.9 L459.9 193.3 L459.7 194.4 L460.3 196.3 L460.7 198.6 L460.0 200.1 L460.6 201.9 L460.9 204.4 L460.7 206.0 L461.2 207.3 L461.2 209.2 L461.3 211.6 L462.0 213.9 L461.2 215.6 L462.4 216.4 L462.0 218.6 L462.7 220.3 L462.3 222.5 L463.3 223.7 L463.1 226.6 L463.7 227.3 L463.7 228.2 L464.4 228.9 L464.2 230.6 L464.4 233.4 L464.7 233.7 L464.5 231.2 L465.1 230.1 L465.7 228.7 L464.9 226.8 L465.5 225.1 L465.2 222.0 L465.8 220.2 L465.5 218.8 L465.7 216.0 L466.0 215.1 L465.6 213.3 L466.0 211.0 L466.4 208.7 L465.9 206.9 L466.4 206.0 L465.9 203.2 L466.6 201.8 L466.6 199.2 L466.7 198.0 L466.8 200.1 L466.9 201.5 L466.9 203.9 L466.8 205.2 L467.0 208.3 L467.6 210.4 L467.9 212.5 L467.6 213.4 L467.8 215.5 L467.5 214.3 L467.6 211.4 L468.0 209.7 L468.9 207.5 L469.3 206.3 L469.0 204.4 L469.4 202.3 L470.0 199.5 L469.6 197.7 L469.9 196.5 L469.5 198.3 L469.6 200.4 L470.7 202.6 L470.8 205.0 L470.6 207.4 L470.2 208.2 L471.0 210.0 L471.0 212.3 L470.9 213.7 L471.4 214.9 L471.0 216.8 L471.4 218.4 L471.7 220.5 L471.6 222.9 L472.3 224.1 L472.1 226.6 L471.7 227.8 L472.9 229.7 L472.5 232.3 L473.3 235.1 L473.3 236.2 L473.1 238.5 L472.8 240.3 L473.4 242.4 L473.2 244.6 L474.1 247.0 L474.2 249.1 L473.8 249.3 L475.1 250.7 L474.7 253.5 L475.0 255.0 L474.4 258.2 L474.8 259.7 L474.6 262.3 L475.0 263.8 L475.2 266.3 L475.7 267.2 L475.5 269.9 L475.3 272.3 L476.4 274.7 L475.7 275.2 L476.8 277.6 L476.6 279.6 L477.0 281.9 L477.0 283.2 L476.7 285.5 L476.8 286.8 L477.2 289.5 L476.9 291.8 L477.4 292.8 L477.2 295.5 L478.0 297.7 L477.7 299.4 L478.2 298.4 L477.9 295.4 L477.8 294.5 L478.9 292.0 L478.1 290.7 L478.4 288.8 L479.1 286.8 L478.9 284.4 L478.7 281.9 L478.9 279.8 L478.9 277.5 L479.4 276.0 L479.7 273.6 L479.8 273.0 L480.1 270.4 L480.0 268.5 L479.8 266.5 L479.8 264.7 L480.2 263.3 L481.3 261.2 L481.3 259.9 L481.3 258.0 L481.3 255.8 L481.9 254.4 L481.8 251.7 L481.2 249.8 L481.7 248.7 L482.1 247.1 L481.4 244.9 L481.9 242.1 L481.6 241.0 L481.4 238.3 L482.3 236.4 L482.1 235.2 L482.5 236.1 L482.0 238.3 L482.9 241.3 L481.9 242.3 L482.9 245.1 L482.5 246.4 L482.7 248.0 L483.0 250.1 L483.3 251.3 L483.3 253.2 L482.9 255.8 L482.8 257.6 L482.9 259.1 L483.6 261.5 L483.9 263.2 L483.6 265.7 L484.3 266.2 L484.2 268.8 L484.5 270.8 L484.0 273.0 L484.5 274.1 L484.8 271.7 L485.1 269.6 L485.4 268.7 L484.8 266.0 L485.5 264.6 L485.2 261.9 L485.8 260.6 L485.5 258.7 L485.9 257.1 L486.3 254.7 L486.8 253.2 L487.0 250.5 L486.9 249.5 L487.2 250.8 L486.8 253.4 L486.6 255.5 L487.4 256.9 L487.6 259.3 L487.7 260.7 L487.0 263.4 L486.9 265.5 L487.8 267.6 L487.4 268.9 L487.7 270.9 L488.0 268.2 L487.5 266.1 L487.7 264.9 L488.8 264.0 L488.1 261.6 L488.6 259.0 L488.6 257.5 L488.9 255.8 L489.2 255.1 L489.0 254.2 L489.6 251.4 L490.0 251.1 L490.0 249.2 L490.2 248.2 L490.8 246.1 L491.1 244.8 L490.9 246.9 L491.4 248.3 L491.0 250.9 L492.1 252.4 L491.7 253.9 L492.5 255.2 L492.1 257.4 L492.8 256.4 L492.4 253.3 L492.4 251.9 L493.1 249.3 L492.9 248.4 L493.2 246.3 L493.3 243.8 L494.2 241.7 L493.6 239.7 L493.6 239.1 L493.7 236.4 L494.5 234.5 L494.3 233.9 L495.2 231.3 L494.9 229.6 L495.3 228.1 L495.2 225.8 L495.3 226.2 L496.3 223.9 L496.8 223.7 L497.1 221.8 L496.8 220.2 L497.2 222.2 L496.8 223.8 L497.7 225.9 L496.9 227.0 L497.2 228.4 L498.0 230.4 L497.9 232.1 L498.0 234.5 L497.7 233.2 L498.0 231.5 L498.6 228.7 L498.0 226.7 L498.8 225.0 L498.6 223.9 L499.0 221.0 L499.2 219.7 L498.6 218.5 L499.3 216.8 L498.8 214.0 L499.1 212.3 L499.1 210.0 L499.0 207.8 L500.1 205.6 L500.0 203.7 L500.0 202.0 L499.9 204.6 L499.9 205.7 L500.0 208.5 L500.4 210.5 L501.2 212.6 L501.1 213.9 L501.2 213.9 L501.2 213.4 L501.7 211.9 L502.2 210.7 L502.6 213.2 L502.2 215.3 L503.3 217.2 L502.8 219.3 L503.1 220.6 L503.5 221.8 L503.4 220.8 L504.1 222.2 L504.0 222.2 L504.2 224.4 L504.8 223.4 L505.2 224.9 L505.7 226.5 L506.0 228.5 L506.0 231.4 L505.9 232.9 L506.6 234.0 L506.7 236.9 L506.7 238.6 L506.2 241.1 L507.0 242.4 L507.1 244.0 L507.6 246.6 L507.5 248.7 L507.6 249.4 L508.3 251.1 L508.0 249.3 L509.0 247.5 L508.8 245.4 L509.4 243.4 L508.8 241.8 L509.2 239.4 L509.5 237.7 L509.8 240.4 L510.2 236.5 L510.3 234.2 L510.6 236.1 L510.5 235.9 L511.1 237.3 L511.1 238.6 L511.4 236.9 L511.4 238.3 L512.3 240.8 L511.6 243.1 L512.6 243.9 L512.2 246.0 L513.0 247.2 L513.0 245.7 L513.8 245.0 L513.9 243.7 L514.3 243.7 L514.9 242.2 L514.6 242.4 L514.8 244.4 L515.5 244.7 L515.3 245.9 L515.3 246.1 L515.9 244.8 L516.6 242.8 L515.8 240.1 L517.0 238.5 L517.3 237.3 L517.0 234.5 L517.7 232.9 L516.9 230.9 L517.9 229.3 L517.9 227.1 L517.6 224.8 L518.1 223.4 L518.3 221.5 L518.1 220.0 L518.6 217.6 L519.0 217.1 L518.9 219.2 L519.7 220.4 L520.0 222.6 L519.4 224.9 L520.1 226.6 L520.4 224.5 L520.9 223.7 L521.1 222.4 L521.5 219.9 L521.3 218.6 L520.9 217.4 L521.5 215.9 L521.2 212.8 L522.0 211.8 L521.9 209.1 L522.7 207.9 L522.2 206.0 L522.4 198.9 L522.3 191.9 L522.5 184.9 L522.6 178.1 L522.8 171.1 L523.1 176.9 L523.3 182.9 L523.4 189.0 L523.6 195.0 L523.8 201.2 L524.5 199.0 L524.6 197.3 L523.8 195.4 L523.8 193.7 L523.8 191.2 L525.0 190.0 L524.4 187.8 L524.5 185.8 L524.7 184.4 L524.9 182.2 L524.6 183.5 L525.8 185.7 L525.1 188.3 L525.4 189.4 L525.8 192.0 L526.1 193.2 L526.0 194.9 L526.5 193.5 L527.1 192.3 L526.6 189.5 L527.4 189.1 L527.3 186.9 L527.3 188.3 L527.3 188.7 L528.1 189.8 L528.7 189.8 L528.5 191.7 L528.4 193.7 L529.2 193.3 L529.2 195.2 L529.0 196.4 L529.7 198.0 L529.9 199.0 L530.0 201.8 L530.6 202.6 L530.6 203.7 L531.2 205.9 L531.2 206.8 L531.3 205.3 L532.2 203.7 L531.8 202.5 L532.3 201.2 L532.9 199.1 L533.0 196.8 L532.6 194.5 L533.5 192.7 L533.1 190.9 L533.6 190.1 L534.1 189.6 L533.9 192.4 L533.9 194.5 L534.2 194.9 L534.4 194.6 L535.2 196.5 L535.2 195.2 L536.1 196.8 L535.6 194.8 L536.5 196.6 L537.0 195.7 L536.8 194.1 L536.5 191.5 L536.8 189.5 L537.7 189.0 L537.4 186.3 L538.1 185.4 L538.2 185.5 L538.1 188.0 L538.4 188.7 L539.2 190.1 L539.3 187.9 L539.4 185.6 L540.5 185.0 L539.8 182.7 L540.0 179.7 L540.7 178.2 L540.7 177.9 L541.2 176.9 L542.0 179.2 L541.5 179.8 L542.1 180.4 L542.3 180.6 L542.4 182.9 L543.0 183.1 L542.7 185.6 L543.3 187.1 L544.0 186.7 L543.9 188.5 L544.4 186.9 L544.8 184.9 L544.7 185.3 L545.3 182.7 L545.4 182.1 L545.5 181.4 L545.5 182.4 L545.5 183.1 L545.8 185.5 L546.8 185.7 L547.1 185.8 L547.1 186.9 L547.0 189.2 L547.3 190.6 L547.7 192.4 L547.9 192.3 L548.3 193.0 L548.7 194.9 L548.5 196.0 L549.4 198.3 L549.8 201.1 L549.2 203.3 L549.4 203.8 L549.9 206.0 L549.6 208.1 L550.3 210.2 L550.9 212.8 L551.0 214.8 L551.1 215.9 L550.9 218.7 L551.0 220.2 L551.0 219.3 L551.7 217.8 L551.8 214.8 L551.7 214.1 L552.3 212.3 L552.8 214.5 L552.2 216.0 L552.4 218.9 L553.1 220.0 L553.4 221.8 L553.9 223.0 L554.3 221.5 L554.7 220.6 L554.5 220.2 L555.2 221.9 L555.4 224.3 L555.7 226.2 L555.3 228.7 L556.0 230.2 L555.8 231.3 L556.2 233.6 L555.9 234.7 L556.5 235.9 L556.2 237.7 L557.4 240.9 L557.1 242.4 L557.3 244.3 L557.1 246.5 L557.0 247.8 L558.1 249.2 L558.2 252.0 L557.9 253.5 L558.0 255.1 L558.5 257.1 L558.2 260.0 L558.5 262.0 L558.6 264.2 L558.2 266.2 L558.1 268.3 L558.5 269.3 L558.7 267.9 L558.7 266.2 L559.4 263.1 L559.3 262.0 L558.9 260.1 L559.8 257.8 L560.0 256.6 L559.9 253.5 L559.8 251.9 L559.9 250.1 L559.8 247.6 L560.4 246.2 L560.5 244.1 L561.2 242.8 L560.7 241.1 L561.3 239.2 L561.4 238.1 L562.4 236.6 L562.1 233.2 L562.1 232.4 L562.5 229.7 L562.5 228.3 L562.6 225.3 L563.0 223.4 L563.5 222.7 L563.7 221.0 L563.7 223.7 L563.5 224.9 L564.2 227.0 L564.2 229.5 L564.5 230.6 L564.3 232.3 L565.0 234.5 L564.7 235.0 L566.1 235.4 L566.2 237.7 L566.1 239.2 L566.8 240.7 L566.5 243.2 L566.4 244.7 L567.2 245.6 L567.2 248.3 L568.3 249.1 L568.0 249.0 L568.2 251.1 L568.1 249.8 L567.9 247.6 L569.1 245.5 L569.1 243.8 L568.5 240.9 L569.4 239.1 L569.7 237.1 L569.3 236.1 L569.9 233.7 L569.3 232.3 L569.5 231.4 L569.2 229.3 L570.4 227.8 L570.3 224.8 L570.1 223.4 L570.7 224.6 L570.3 226.7 L570.1 229.7 L570.8 231.9 L571.5 233.2 L571.3 234.5 L571.6 235.2 L572.3 233.5 L571.7 231.8 L572.0 230.7 L573.0 231.9 L572.9 231.3 L573.2 231.5 L573.4 233.4 L573.6 234.3 L574.5 234.1 L574.5 236.0 L574.5 237.7 L575.1 238.9 L575.3 240.3 L575.4 239.1 L575.6 240.8 L575.7 239.1 L575.8 238.9 L576.8 237.9 L576.7 236.1 L577.1 236.0 L577.2 233.7 L577.9 233.0 L577.9 232.4 L577.9 232.7 L578.5 234.2 L578.1 235.7 L578.8 236.1 L579.5 237.5 L579.6 239.5 L579.4 242.7 L579.9 244.0 L579.8 242.4 L580.0 239.8 L580.9 239.7 L581.1 237.1 L581.2 236.1 L581.4 233.2 L581.2 231.6 L582.2 230.7 L581.8 228.6 L582.4 226.6 L582.1 226.9 L582.3 225.6 L582.1 223.8 L582.3 222.6 L583.0 219.7 L582.9 217.5 L583.7 216.6 L583.4 218.3 L584.5 219.1 L584.8 221.1 L584.5 222.3 L585.0 223.8 L585.5 225.6 L585.2 226.9 L584.9 230.2 L585.5 231.1 L586.0 233.3 L585.7 235.6 L586.1 237.9 L585.6 240.2 L586.1 241.2 L585.9 239.5 L586.2 237.4 L587.1 235.9 L587.7 234.0 L587.4 231.7 L587.4 233.0 L588.3 236.1 L588.6 237.6 L588.0 240.1 L588.5 242.0 L589.0 240.7 L589.3 239.6 L589.9 238.4 L589.6 238.0 L589.2 235.6 L590.3 233.1 L590.5 232.3 L591.0 229.3 L590.8 227.7 L591.5 230.0 L591.1 231.7 L592.1 232.8 L591.4 235.4 L592.1 238.0 L592.6 239.9 L592.3 241.1 L592.8 241.5 L593.0 242.5 L593.4 243.0 L593.7 241.2 L593.9 241.1 L594.4 241.7 L594.5 241.8 L595.0 242.8 L595.0 242.3 L595.3 243.6 L595.5 241.7 L595.5 240.3 L595.9 238.4 L596.4 236.5 L596.9 235.8 L597.0 234.6 L597.7 232.1 L597.5 230.9 L597.9 231.7 L598.1 232.1 L597.9 234.2 L598.3 234.8 L598.9 234.8 L599.1 236.5 L599.2 235.1 L599.9 234.9 L599.6 235.5 L600.4 233.9 L600.4 234.1 L600.8 233.4 L601.1 232.7 L600.6 230.6 L600.8 229.6 L601.6 229.3 L601.8 231.4 L601.6 232.2 L602.7 233.3 L602.7 233.3 L602.5 231.2 L603.5 229.9 L603.3 227.5 L603.8 224.9 L604.5 223.7 L604.3 221.4 L604.3 223.9 L604.9 222.2 L604.7 221.8 L605.7 220.3 L605.3 221.5 L605.9 223.0 L606.0 223.1 L606.9 223.3 L606.3 221.1 L606.8 221.3 L607.2 219.8 L607.0 220.8 L607.9 222.6 L608.3 224.6 L608.3 226.1 L608.4 223.8 L608.2 222.9 L609.3 221.9 L609.5 220.6 L609.5 219.8 L610.1 221.0 L609.8 221.0 L610.5 223.0 L610.0 223.6 L610.7 225.4 L611.3 228.0 L611.2 229.7 L612.1 231.0 L611.8 233.3 L611.9 234.1 L612.3 235.9 L612.9 236.2 L612.9 237.6 L613.0 239.6 L613.7 238.4 L614.1 237.1 L614.2 236.6 L614.1 237.2 L614.3 237.8 L615.2 239.5 L614.5 242.1 L614.8 242.7 L615.4 244.4 L614.9 246.1 L615.8 247.2 L615.6 249.0 L615.5 251.7 L616.1 253.4 L616.1 255.0 L616.8 256.9 L616.3 257.3 L616.2 258.7 L617.1 259.1 L617.9 260.3 L618.0 261.3 L617.8 263.9 L618.1 265.2 L618.5 267.5 L618.5 269.9 L619.1 272.5 L619.0 273.7 L618.7 275.2 L619.4 277.2 L620.1 275.4 L619.8 274.3 L620.3 274.0 L620.5 272.8 L620.3 271.3 L620.8 272.3 L621.4 269.7 L621.3 269.4 L622.1 268.4 L621.9 267.4 L622.2 267.2 L622.6 269.6 L623.1 270.4 L622.7 272.3 L623.3 273.5 L623.1 274.6 L623.3 276.5 L623.9 278.3 L623.9 279.9 L624.8 280.9 L624.5 284.5 L625.0 286.2 L625.6 287.6 L625.5 289.4 L625.6 290.9 L626.3 293.6 L626.7 295.8 L626.9 297.8 L627.0 299.7 L627.0 301.6 L627.5 303.5 L627.0 305.2 L627.5 306.4 L627.3 308.8 L627.4 310.5 L628.0 309.0 L627.6 307.0 L628.5 305.0 L628.7 303.3 L628.6 301.0 L628.9 299.4 L628.6 302.0 L629.6 303.6 L629.9 305.4 L628.9 307.8 L629.8 309.5 L630.1 311.5 L629.8 313.4 L629.5 314.0 L629.7 316.2 L630.2 318.6 L630.7 320.9 L630.5 322.1 L630.6 321.4 L630.9 317.8 L630.8 315.5 L631.6 314.9 L631.4 313.6 L631.8 311.8 L632.8 310.9 L633.0 311.3 L632.7 310.8 L632.8 309.4 L633.3 307.2 L633.9 306.5 L633.5 304.1 L634.6 300.8 L634.4 299.4 L634.5 300.7 L635.4 302.9 L635.3 304.2 L635.5 304.9 L635.6 303.6 L636.3 300.8 L636.1 298.8 L635.7 297.7 L635.9 295.8 L635.8 293.2 L636.3 291.6 L636.2 290.4 L636.5 288.2 L636.9 285.5 L637.1 284.6 L636.4 282.4 L637.1 280.5 L636.8 279.2 L637.0 277.2 L637.5 279.1 L637.2 281.5 L637.0 282.8 L637.1 284.0 L637.1 285.9 L637.9 287.2 L637.7 289.8 L637.8 291.6 L637.8 293.3 L638.0 294.8 L637.7 296.3 L637.7 298.4 L638.1 300.8 L638.7 302.9 L638.6 305.0 L638.1 307.1 L638.5 308.3 L639.0 307.0 L639.0 304.7 L638.6 303.5 L639.0 300.4 L638.8 298.9 L639.4 297.2 L640.0 295.0 L639.2 293.3 L639.9 291.2 L639.9 289.4 L640.0 288.3 L640.2 286.2 L641.0 284.4 L641.3 281.5 L641.1 280.5 L641.9 280.4 L641.6 283.1 L642.3 284.0 L642.2 285.0 L642.2 283.5 L642.3 281.6 L643.0 279.3 L643.1 276.9 L643.3 275.0 L643.7 272.7 L643.4 272.4 L644.3 271.3 L644.6 269.0 L643.9 269.0 L644.7 267.2 L645.4 268.2 L645.7 269.5 L645.7 271.4 L645.7 272.6 L645.5 274.3 L646.1 276.1 L646.8 278.1 L647.2 279.0 L647.4 280.8 L646.8 283.4 L647.8 285.9 L647.7 286.6 L648.2 284.9 L648.7 284.2 L648.2 283.1 L649.2 281.4 L648.8 281.1 L649.5 280.2 L649.4 279.4 L649.6 278.1 L649.8 275.0 L650.1 274.2 L650.5 271.6 L650.8 272.3 L651.1 271.0 L651.4 269.4 L651.6 270.0 L652.3 272.0 L651.6 273.0 L652.9 275.4 L652.4 276.6 L652.8 278.4 L653.3 278.4 L653.3 280.5 L653.3 281.7 L653.6 281.1 L653.9 282.7 L654.3 281.6 L654.4 282.8 L655.2 283.4 L655.0 285.0 L655.4 287.0 L655.5 289.3 L655.0 291.0 L655.2 292.1 L655.6 294.5 L655.3 295.4 L655.8 297.1 L656.7 299.5 L656.6 301.7 L656.8 304.0 L657.4 305.5 L657.4 307.6 L657.5 310.3 L657.8 311.4 L657.9 313.9 L657.4 315.4 L658.0 316.7 L657.9 318.5 L658.8 319.9 L658.6 321.3 L659.1 324.5 L658.6 326.0 L659.1 327.8 L658.8 325.6 L659.2 324.0 L659.8 322.9 L659.5 320.2 L659.0 318.3 L660.1 316.5 L659.8 314.5 L659.3 313.2 L659.9 311.1 L660.6 313.5 L660.2 313.8 L660.9 314.1 L661.0 316.7 L661.3 317.2 L661.9 318.4 L662.3 320.4 L662.4 321.8 L662.3 324.6 L662.9 326.1 L662.7 328.7 L663.0 329.8 L663.4 332.3 L663.4 334.2 L663.2 336.4 L662.8 337.8 L663.9 338.6 L663.4 341.1 L663.6 342.8 L663.4 341.3 L663.4 339.1 L663.6 337.1 L663.7 335.4 L664.2 333.1 L664.5 330.8 L663.9 329.4 L664.3 327.1 L664.6 325.7 L664.3 323.7 L664.3 322.6 L665.1 321.1 L664.7 318.3 L664.3 321.5 L664.6 322.3 L665.5 324.5 L665.2 327.3 L665.4 329.2 L665.2 330.0 L665.8 332.5 L665.8 330.1 L666.0 331.6 L666.8 331.6 L667.0 329.5 L667.1 331.0 L667.3 328.3 L667.8 327.8 L667.5 325.2 L667.9 325.2 L668.3 323.0 L668.4 321.3 L669.0 320.0 L668.8 318.2 L669.2 316.3 L669.4 314.3 L669.1 315.6 L669.6 318.6 L670.2 320.8 L670.7 322.3 L670.7 323.0 L671.2 321.9 L671.5 320.3 L671.1 318.3 L671.6 316.3 L671.8 313.5 L672.1 315.3 L671.6 317.7 L671.9 319.8 L672.6 320.7 L672.6 322.9 L672.9 324.5 L672.2 326.0 L672.2 327.9 L672.3 329.9 L673.1 331.8 L672.9 334.1 L672.6 332.6 L673.3 332.4 L674.1 330.7 L673.4 330.5 L674.2 331.0 L674.1 329.6 L674.1 326.6 L675.1 324.0 L675.1 322.7 L675.3 320.7 L675.8 322.1 L675.9 325.3 L675.5 327.8 L675.8 328.3 L676.1 329.6 L676.6 332.5 L676.6 334.7 L676.7 336.6 L677.3 337.6 L677.7 339.5 L677.8 342.1 L677.7 343.5 L677.8 346.1 L678.2 348.4 L678.1 351.0 L678.8 352.6 L678.9 355.1 L678.9 356.3 L679.3 357.7 L678.9 360.4 L679.4 362.3 L679.5 364.9 L680.1 365.9 L680.5 368.2 L680.4 368.9 L680.8 371.4 L680.6 369.9 L681.6 368.1 L680.8 365.3 L681.2 363.8 L682.1 362.9 L682.0 360.4 L681.4 358.6 L681.6 357.4 L682.1 354.7 L682.2 352.3 L682.3 349.9 L683.0 348.5 L683.0 346.7 L682.8 345.4 L682.6 342.8 L682.8 341.1 L683.1 339.4 L683.2 337.3 L683.5 335.2 L683.2 334.5 L683.2 331.7 L683.4 329.2 L684.5 327.9 L684.9 326.7 L684.5 324.6 L684.8 323.5 L684.2 321.3 L684.7 319.1 L684.6 317.6 L685.2 315.8 L685.4 314.0 L685.9 311.5 L685.8 310.4 L686.1 311.1 L686.4 308.4 L686.9 311.3 L686.3 310.6 L687.1 311.5 L687.2 308.8 L686.9 310.6 L687.2 313.2 L687.8 314.2 L688.4 316.0 L688.4 318.3 L688.8 317.9 L689.0 316.1 L689.3 316.5 L689.5 315.9 L689.7 313.5 L689.3 312.7 L690.0 310.0 L690.7 308.4 L690.2 306.3 L690.4 304.5 L691.1 302.7 L690.4 299.7 L690.8 298.5 L691.4 300.8 L691.6 302.9 L690.8 304.7 L691.4 305.9 L691.1 307.6 L691.4 309.9 L691.6 311.9 L691.8 311.4 L691.9 314.6 L692.6 315.3 L692.7 314.0 L692.9 313.5 L692.8 314.9 L693.4 315.9 L693.2 318.8 L694.0 319.9 L694.0 317.7 L695.0 318.6 L695.2 317.1 L695.1 317.0 L694.9 318.3 L695.6 316.7 L696.2 318.4 L696.2 319.6 L696.0 322.3 L695.9 323.4 L696.9 325.6 L696.2 328.1 L696.8 329.4 L696.4 331.1 L697.4 333.8 L696.8 334.7 L697.8 337.6 L697.1 339.9 L697.2 341.7 L697.9 344.2 L697.3 346.1 L697.8 347.2 L698.1 349.2 L698.7 347.5 L698.3 345.3 L698.8 342.6 L699.4 340.2 L699.2 338.9 L699.1 338.4 L699.9 337.5 L700.2 335.1 L699.9 335.0 L700.1 332.7 L700.6 332.5 L700.8 331.6 L700.7 330.8 L701.2 328.0 L701.2 328.1 L701.9 326.2 L701.9 327.1 L702.2 328.3 L703.0 329.7 L702.5 332.6 L703.3 333.9 L703.5 335.7 L703.6 333.4 L704.4 333.0 L704.6 333.7 L704.8 332.8 L704.7 330.7 L705.1 331.0 L705.5 329.5 L705.9 332.0 L706.1 330.9 L706.1 333.8 L706.5 332.5 L706.7 332.5 L707.5 333.2 L707.3 331.2 L707.2 331.2 L707.3 328.8 L708.3 328.6 L708.3 327.8 L708.5 325.9 L708.8 326.9 L709.4 325.0 L709.1 324.9 L709.5 323.0 L709.8 320.7 L710.4 319.6 L709.8 317.8 L710.0 315.7 L710.4 313.7 L710.6 311.9 L711.3 312.0 L711.1 311.2 L711.0 310.3 L711.8 309.3 L711.8 308.1 L712.2 305.6 L711.9 306.6 L713.1 305.7 L713.4 303.4 L713.6 301.7 L713.4 301.2 L713.8 300.8 L714.4 299.1 L713.9 299.5 L714.3 299.9 L714.9 297.7 L714.6 295.7 L714.5 293.5 L715.1 291.9 L715.0 290.8 L714.5 288.1 L715.1 285.6 L715.2 284.5 L715.3 283.6 L715.5 281.0 L715.7 279.2 L716.5 277.3 L716.3 276.8 L716.2 275.4 L716.8 274.5 L717.0 272.2 L717.8 270.5 L717.1 268.8 L717.3 266.0 L717.9 265.0 L717.7 266.6 L718.5 269.5 L718.4 271.7 L718.4 273.4 L719.1 274.4 L718.5 277.3 L718.9 279.2 L719.5 277.1 L718.9 275.7 L719.4 272.7 L719.1 271.4 L719.6 268.6 L720.0 266.4 L719.6 265.3 L720.0 263.4 L720.6 265.2 L720.9 266.6 L720.9 269.8 L721.1 271.3 L721.2 269.9 L721.7 268.3 L721.8 266.1 L721.8 263.9 L722.4 261.8 L722.5 264.6 L722.8 263.4 L723.3 261.1 L723.1 261.6 L723.7 263.4 L723.8 260.5 L724.4 260.1 L724.0 258.3 L724.7 255.7 L724.9 253.7 L724.8 252.3 L725.4 250.5 L725.7 249.7 L725.6 248.3 L725.9 251.0 L726.5 253.1 L726.6 254.9 L726.3 256.2 L726.6 258.3 L726.2 259.3 L726.3 261.5 L726.8 263.4 L726.4 261.5 L726.8 260.2 L726.8 257.9 L727.7 255.6 L727.9 254.5 L727.9 252.3 L727.9 253.0 L728.7 253.8 L728.6 254.3 L729.3 255.2 L729.4 254.5 L729.5 255.5 L729.9 253.5 L730.0 256.6 L730.1 255.0 L730.4 254.4 L731.2 254.0 L731.1 257.1 L731.3 256.7 L731.2 257.8 L732.1 260.4 L731.9 261.4 L732.7 261.4 L732.7 261.8 L732.5 264.3 L733.4 261.9 L733.8 262.7 L733.3 264.0 L734.0 265.0 L733.9 265.5 L735.1 267.3 L735.1 270.3 L735.1 271.3 L735.8 272.4 L736.0 274.0 L736.1 275.2 L736.1 277.5 L736.3 279.2 L736.6 277.2 L737.1 276.6 L737.6 274.4 L737.4 272.9 L737.6 275.4 L738.2 276.9 L737.8 278.2 L738.5 280.8 L739.2 281.6 L738.6 284.0 L739.0 282.8 L739.5 283.7 L739.8 285.6 L740.1 286.8 L740.2 286.0 L740.3 287.4 L740.6 287.8 L740.4 289.5 L741.0 290.2 L741.8 290.8 L742.2 292.1 L742.0 294.7 L742.6 295.8 L743.0 298.2 L742.3 299.7 L743.3 300.0 L743.2 302.6 L743.6 304.7 L743.7 305.2 L744.5 303.6 L744.7 301.5 L744.0 300.6 L745.2 298.6 L745.3 295.8 L745.1 294.7 L745.6 295.0 L745.2 294.1 L745.4 294.9 L746.4 294.5 L746.6 292.2 L746.9 291.5 L746.9 291.3 L747.6 289.2 L747.7 288.7 L748.0 288.1 L747.9 286.7 L748.1 284.9 L748.8 283.9 L748.6 284.3 L748.8 283.9 L749.5 285.9 L748.9 285.4 L749.8 284.6 L749.8 282.5 L750.6 284.6 L750.4 287.0 L750.1 288.3 L751.3 289.2 L751.0 291.3 L751.5 293.0 L751.9 291.1 L751.4 294.4 L752.3 292.8 L752.0 295.3 L752.4 294.7 L752.2 293.3 L753.4 291.2 L753.0 288.5 L753.9 286.7 L754.1 285.0 L753.8 284.3 L754.3 283.3 L754.6 280.6 L754.6 279.8 L754.9 277.8 L755.1 277.3 L755.1 277.9 L755.5 279.5 L755.7 276.0 L756.2 276.5 L756.5 277.4 L756.6 276.7 L756.8 276.4 L756.8 278.4 L757.1 274.1 L757.2 273.9 L757.4 274.2 L758.0 277.0 L758.4 277.5 L758.5 274.7 L758.5 277.1 L758.7 277.7 L759.2 278.7 L759.2 281.0 L759.8 282.5 L759.8 280.5 L760.6 280.8 L760.1 280.2 L760.3 277.5 L761.3 277.2 L761.2 275.6 L761.1 277.0 L761.6 277.3 L761.8 279.2 L762.1 279.4 L762.1 279.6 L763.1 280.2 L762.9 280.8 L763.2 280.6 L763.3 280.7 L763.7 280.2 L763.9 280.6 L764.3 283.6 L764.3 281.7 L764.8 279.9 L764.7 279.4 L764.9 279.1 L764.7 277.4 L766.0 278.3 L765.7 276.1 L766.0 275.6 L765.7 273.6 L766.9 273.6 L766.5 271.0 L767.4 270.4 L767.3 268.6 L767.4 267.1 L768.1 265.1 L768.5 264.8 L768.4 262.0 L768.8 262.0 L768.3 259.7 L769.0 258.1 L769.5 256.1 L769.8 254.8 L769.7 255.1 L770.5 255.3 L769.7 253.7 L770.4 252.6 L770.7 251.2 L771.5 249.3 L770.8 248.5 L771.3 246.2 L771.5 245.2 L772.4 243.6 L772.5 241.5 L772.5 240.7 L772.2 242.0 L773.1 244.9 L773.6 246.3 L773.2 247.7 L773.7 249.7 L773.7 251.2 L773.5 248.8 L773.8 248.2 L774.6 246.6 L774.7 246.5 L775.1 244.0 L775.6 242.4 L775.5 241.6 L776.0 239.9 L775.6 241.7 L776.6 240.7 L776.8 240.6 L776.8 243.3 L777.2 243.1 L777.4 245.2 L777.6 245.5 L777.3 247.2 L777.5 247.1 L778.2 247.7 L777.9 247.7 L778.5 248.9 L779.2 249.0 L778.8 249.0 L779.3 250.0 L779.7 251.0 L780.0 252.0 L779.9 249.7 L780.7 248.4 L780.1 247.2 L780.9 246.2 L781.2 244.2 L781.2 241.7 L782.1 240.0 L781.7 238.8 L781.9 236.7 L782.4 235.5 L782.6 233.4 L783.0 236.9 L783.3 237.2 L783.3 236.1 L783.5 232.3 L783.9 232.7 L784.2 236.2 L784.3 234.4 L784.7 234.6 L784.6 236.8 L785.7 235.8 L785.7 238.0 L786.1 238.8 L786.0 239.0 L786.1 238.9 L786.5 241.7 L786.8 242.4 L786.0 245.3 L786.6 247.3 L787.2 248.6 L786.5 250.1 L787.3 252.9 L787.7 249.8 L787.4 248.2 L788.5 246.6 L787.8 244.2 L788.7 242.8 L788.7 240.7 L789.3 241.1 L789.6 242.9 L789.7 241.3 L789.7 242.5 L789.7 243.5 L790.2 245.1 L790.4 244.2 L791.0 242.6 L790.7 240.9 L791.3 240.9 L791.1 243.0 L792.0 241.9 L791.6 242.3 L792.2 241.6 L792.1 243.1 L793.1 242.3 L793.1 243.5 L793.5 242.3 L793.8 243.2 L793.6 244.0 L793.9 245.1 L794.1 244.5 L794.0 245.0 L795.1 243.5 L795.4 244.6 L795.2 244.0 L795.5 243.6 L795.7 241.6 L796.2 241.9 L795.7 242.6 L796.5 243.9 L797.1 245.5 L796.9 246.8 L796.9 248.2 L797.1 249.4 L797.9 246.8 L797.7 249.1 L798.2 247.6 L798.1 246.7 L798.6 248.5 L799.2 247.4 L798.9 246.3 L799.6 246.2 L799.5 246.6 L799.8 245.7 L800.4 245.5 L800.4 243.3 L800.5 243.1 L801.3 241.5 L800.9 241.7 L801.0 239.2 L801.1 240.5 L801.9 240.1 L802.1 238.1 L802.4 238.8 L802.7 237.5 L803.2 235.6 L802.8 234.2 L803.5 237.0 L803.8 238.3 L803.9 236.3 L804.7 239.3 L804.7 239.7 L804.7 242.4 L805.3 244.2 L804.8 245.6 L805.4 246.1 L805.3 249.0 L805.9 249.7 L806.1 251.2 L806.7 250.2 L806.7 252.2 L807.0 250.2 L807.3 250.5 L807.4 250.3 L807.2 251.6 L807.9 253.7 L807.8 255.3 L807.8 256.8 L808.6 258.1 L808.4 257.6 L809.1 259.8 L809.7 261.3 L809.3 261.1 L810.0 262.7 L809.9 264.4 L810.3 263.4 L811.0 264.9 L810.7 266.5 L811.3 268.8 L811.7 271.2 L811.1 274.3 L811.7 275.6 L812.0 277.9 L812.0 279.3 L811.7 281.3 L812.2 284.3 L813.2 286.3 L813.1 287.1 L813.1 289.5 L813.4 290.5 L813.2 294.0 L814.2 296.2 L814.7 296.7 L814.9 298.3 L814.9 300.6 L814.9 302.6 L815.1 301.0 L814.9 299.2 L815.5 297.6 L815.3 295.8 L815.2 293.5 L815.6 290.9 L815.4 289.7 L816.3 288.6 L816.4 286.9 L816.1 284.3 L816.7 285.6 L816.3 286.0 L817.3 288.4 L817.2 287.5 L817.3 289.5 L817.7 287.1 L818.2 284.9 L818.5 283.4 L818.0 281.5 L819.1 279.4 L819.1 278.3 L819.0 276.4 L819.2 275.9 L818.9 278.3 L820.2 279.8 L819.4 279.6 L819.6 280.3 L820.4 280.8 L820.1 278.3 L820.6 277.4 L820.9 275.0 L821.9 273.0 L822.0 271.6 L821.8 268.6 L822.4 267.7 L822.2 265.6 L822.3 267.3 L822.9 265.7 L823.1 265.1 L823.1 265.7 L824.1 267.6 L824.3 269.7 L824.2 270.7 L824.3 271.2 L824.1 269.0 L825.2 269.1 L825.4 266.9 L825.3 265.1 L824.9 267.7 L825.7 269.1 L825.0 270.8 L825.4 272.9 L825.8 275.0 L825.3 276.5 L825.4 277.7 L825.9 279.0 L826.0 281.7 L825.8 279.6 L826.3 278.7 L826.5 275.7 L826.7 274.3 L826.5 271.4 L826.8 270.5 L827.4 268.6 L828.0 267.2 L828.4 267.8 L827.6 265.2 L828.5 265.7 L828.1 263.9 L828.6 263.0 L829.2 262.5 L828.9 264.3 L830.2 265.1 L830.4 267.5 L830.2 268.4 L830.6 271.3 L830.6 272.1 L830.9 273.5 L831.2 274.5 L831.5 276.9 L831.9 279.0 L831.8 279.9 L831.8 281.3 L831.6 283.4 L832.0 284.8 L832.6 287.4 L832.5 288.6 L832.9 291.4 L833.0 293.0 L833.0 293.7 L833.6 294.5 L833.7 293.8 L833.5 295.4 L834.1 297.5 L834.4 296.5 L834.3 295.8 L835.1 296.2 L835.3 294.5 L835.3 294.7 L835.6 297.4 L835.6 299.5 L835.3 301.1 L836.0 302.1 L836.5 305.1 L836.1 306.3 L836.1 308.7 L836.2 311.1 L836.5 312.2 L836.2 309.8 L836.8 307.7 L837.0 305.8 L836.8 305.1 L837.2 304.0 L837.5 301.7 L837.6 301.5 L838.0 299.5 L838.6 297.2 L838.2 294.9 L838.7 294.7 L839.4 292.2 L838.6 290.5 L839.5 288.4 L839.6 286.9 L839.5 287.3 L840.0 287.7 L840.2 286.4 L841.0 285.8 L840.8 285.2 L840.5 287.8 L840.9 289.6 L841.8 290.4 L841.2 293.2 L841.8 295.0 L841.7 296.5 L841.4 298.0 L842.6 299.9 L842.4 301.4 L841.9 302.7 L842.2 305.8 L842.8 307.0 L843.1 308.0 L842.9 309.6 L842.9 312.5 L843.9 314.5 L843.6 315.7 L844.3 316.6 L843.7 319.6 L844.6 321.0 L844.5 322.6" fill="none" stroke="#0000fa" stroke-width="2.2" stroke-linejoin="round" stroke-linecap="round"/>
<path d="M71 51H1002V535.8H71Z M74 55V533H999V55Z" fill="#000" fill-rule="evenodd"/>
<path d="M60 534.5H71.5M1001.5 534.5H1012 M66 520.5H71.5M1001.5 520.5H1007 M66 506.5H71.5M1001.5 506.5H1007 M66 492.5H71.5M1001.5 492.5H1007 M66 479.5H71.5M1001.5 479.5H1007 M60 465.5H71.5M1001.5 465.5H1012 M66 451.5H71.5M1001.5 451.5H1007 M66 437.5H71.5M1001.5 437.5H1007 M66 424.5H71.5M1001.5 424.5H1007 M66 410.5H71.5M1001.5 410.5H1007 M60 396.5H71.5M1001.5 396.5H1012 M66 382.5H71.5M1001.5 382.5H1007 M66 369.5H71.5M1001.5 369.5H1007 M66 355.5H71.5M1001.5 355.5H1007 M66 341.5H71.5M1001.5 341.5H1007 M60 327.5H71.5M1001.5 327.5H1012 M66 314.5H71.5M1001.5 314.5H1007 M66 300.5H71.5M1001.5 300.5H1007 M66 286.5H71.5M1001.5 286.5H1007 M66 272.5H71.5M1001.5 272.5H1007 M60 259.5H71.5M1001.5 259.5H1012 M66 245.5H71.5M1001.5 245.5H1007 M66 231.5H71.5M1001.5 231.5H1007 M66 217.5H71.5M1001.5 217.5H1007 M66 204.5H71.5M1001.5 204.5H1007 M60 190.5H71.5M1001.5 190.5H1012 M66 176.5H71.5M1001.5 176.5H1007 M66 162.5H71.5M1001.5 162.5H1007 M66 149.5H71.5M1001.5 149.5H1007 M66 135.5H71.5M1001.5 135.5H1007 M60 121.5H71.5M1001.5 121.5H1012 M66 107.5H71.5M1001.5 107.5H1007 M66 94.5H71.5M1001.5 94.5H1007 M66 80.5H71.5M1001.5 80.5H1007 M66 66.5H71.5M1001.5 66.5H1007 M60 53.5H71.5M1001.5 53.5H1012" stroke="#000" stroke-width="1" fill="none" shape-rendering="crispEdges"/>
<path d="M71 535 h2 V548 h-2Z M118 535 h2 V548 h-2Z M164 535 h2 V548 h-2Z M211 535 h2 V548 h-2Z M257 535 h2 V548 h-2Z M303 535 h2 V548 h-2Z M350 535 h2 V548 h-2Z M396 535 h2 V548 h-2Z M443 535 h2 V548 h-2Z M489 535 h2 V548 h-2Z M535 535 h2 V548 h-2Z M582 535 h2 V548 h-2Z M628 535 h2 V548 h-2Z M675 535 h2 V548 h-2Z M721 535 h2 V548 h-2Z M767 535 h2 V548 h-2Z M814 535 h2 V548 h-2Z M860 535 h2 V548 h-2Z M907 535 h2 V548 h-2Z M953 535 h2 V548 h-2Z M999 535 h2 V548 h-2Z" fill="#000" stroke="none" shape-rendering="crispEdges"/>
<text class="sr" x="56.1" y="58.4" font-size="14.5" text-anchor="end" fill="#000">3.5</text>
<text class="sr" x="1015.5" y="58.4" font-size="14.5" text-anchor="start" fill="#000">3.5</text>
<text class="sr" x="56.1" y="126.4" font-size="14.5" text-anchor="end" fill="#000">3.0</text>
<text class="sr" x="1015.5" y="126.4" font-size="14.5" text-anchor="start" fill="#000">3.0</text>
<text class="sr" x="56.1" y="195.4" font-size="14.5" text-anchor="end" fill="#000">2.5</text>
<text class="sr" x="1015.5" y="195.4" font-size="14.5" text-anchor="start" fill="#000">2.5</text>
<text class="sr" x="56.1" y="264.4" font-size="14.5" text-anchor="end" fill="#000">2.0</text>
<text class="sr" x="1015.5" y="264.4" font-size="14.5" text-anchor="start" fill="#000">2.0</text>
<text class="sr" x="56.1" y="332.4" font-size="14.5" text-anchor="end" fill="#000">1.5</text>
<text class="sr" x="1015.5" y="332.4" font-size="14.5" text-anchor="start" fill="#000">1.5</text>
<text class="sr" x="56.1" y="401.4" font-size="14.5" text-anchor="end" fill="#000">1.0</text>
<text class="sr" x="1015.5" y="401.4" font-size="14.5" text-anchor="start" fill="#000">1.0</text>
<text class="sr" x="56.1" y="470.4" font-size="14.5" text-anchor="end" fill="#000">.5</text>
<text class="sr" x="1015.5" y="470.4" font-size="14.5" text-anchor="start" fill="#000">.5</text>
<text class="sr" x="56.1" y="540.1" font-size="14.5" text-anchor="end" fill="#000">.0</text>
<text class="sr" x="1015.5" y="540.1" font-size="14.5" text-anchor="start" fill="#000">.0</text>
<text class="sr" x="94.9" y="554" font-size="14.7" text-anchor="middle" fill="#000">2003</text>
<text class="sr" x="141.3" y="554" font-size="14.7" text-anchor="middle" fill="#000">2004</text>
<text class="sr" x="187.7" y="554" font-size="14.7" text-anchor="middle" fill="#000">2005</text>
<text class="sr" x="234.1" y="554" font-size="14.7" text-anchor="middle" fill="#000">2006</text>
<text class="sr" x="280.5" y="554" font-size="14.7" text-anchor="middle" fill="#000">2007</text>
<text class="sr" x="326.9" y="554" font-size="14.7" text-anchor="middle" fill="#000">2008</text>
<text class="sr" x="373.3" y="554" font-size="14.7" text-anchor="middle" fill="#000">2009</text>
<text class="sr" x="419.7" y="554" font-size="14.7" text-anchor="middle" fill="#000">2010</text>
<text class="sr" x="466.1" y="554" font-size="14.7" text-anchor="middle" fill="#000">2011</text>
<text class="sr" x="512.5" y="554" font-size="14.7" text-anchor="middle" fill="#000">2012</text>
<text class="sr" x="558.9" y="554" font-size="14.7" text-anchor="middle" fill="#000">2013</text>
<text class="sr" x="605.3" y="554" font-size="14.7" text-anchor="middle" fill="#000">2014</text>
<text class="sr" x="651.7" y="554" font-size="14.7" text-anchor="middle" fill="#000">2015</text>
<text class="sr" x="698.1" y="554" font-size="14.7" text-anchor="middle" fill="#000">2016</text>
<text class="sr" x="744.5" y="554" font-size="14.7" text-anchor="middle" fill="#000">2017</text>
<text class="sr" x="790.9" y="554" font-size="14.7" text-anchor="middle" fill="#000">2018</text>
<text class="sr" x="837.3" y="554" font-size="14.7" text-anchor="middle" fill="#000">2019</text>
<text class="sr" x="883.7" y="554" font-size="14.7" text-anchor="middle" fill="#000">2020</text>
<text class="sr" x="930.1" y="554" font-size="14.7" text-anchor="middle" fill="#000">2021</text>
<text class="sr" x="976.5" y="554" font-size="14.7" text-anchor="middle" fill="#000">2022</text>
<text class="ss" x="82" y="41.2" font-size="19" font-weight="bold" fill="#000" textLength="89" lengthAdjust="spacingAndGlyphs">Figure 15.</text>
<text class="ss" x="83.8" y="73.2" font-size="18.3" font-weight="bold" fill="#000" textLength="616" lengthAdjust="spacingAndGlyphs">WIDELY-USED PROXY FOR 10-YEAR EXPECTED INFLATION RATE*</text>
<text class="ss" x="83.5" y="93.2" font-size="17" fill="#000" textLength="112.8" lengthAdjust="spacingAndGlyphs">(percent, daily)</text>
<text class="ss" x="680.9" y="168.8" font-size="17.1" fill="#000" textLength="234.6" lengthAdjust="spacingAndGlyphs">Expected Inflation Proxy (1.53)</text>
<text class="ss" x="849.2" y="328.7" font-size="14.6" fill="#0000fa" textLength="28.8" lengthAdjust="spacingAndGlyphs">8/20</text>
<text class="sr" x="81.8" y="527.6" font-size="16.3" font-style="italic" fill="#000" textLength="84.2" lengthAdjust="spacingAndGlyphs">yardeni.com</text>
<text class="sr" x="54.3" y="586.8" font-size="14.5" font-weight="bold" fill="#000">*</text>
<text class="sr" x="72.2" y="587.7" font-size="15.2" fill="#000" textLength="418.4" lengthAdjust="spacingAndGlyphs">Nominal 10-year US Treasury bond yield minus 10-year TIPS yield.</text>
<text class="sr" x="72.2" y="603.1" font-size="15.2" fill="#000" textLength="193.5" lengthAdjust="spacingAndGlyphs">Source: Federal Reserve Board.</text>
</svg></body></html>
